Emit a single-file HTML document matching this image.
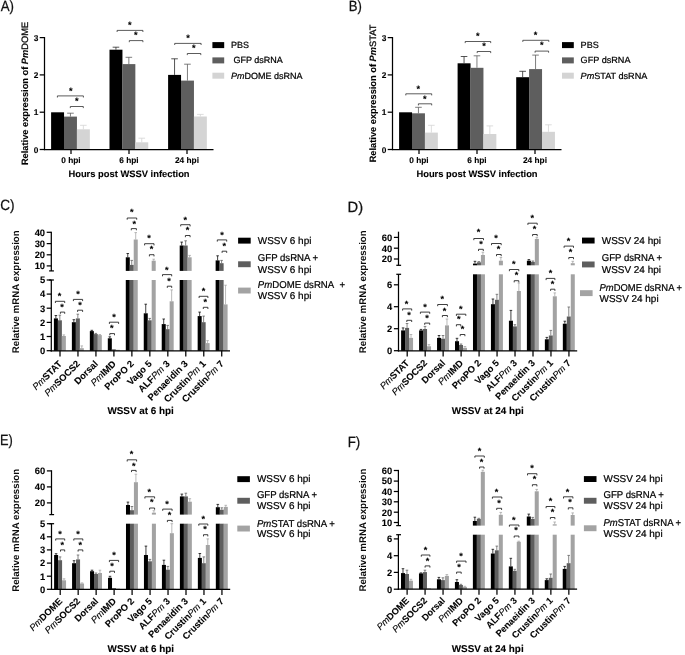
<!DOCTYPE html>
<html lang="en">
<head>
<meta charset="utf-8">
<title>Relative expression after dsRNA knockdown and WSSV infection</title>
<style>
html,body{margin:0;padding:0;background:#fff;}
body{width:685px;height:655px;overflow:hidden;}
svg{display:block;filter:blur(0.32px);text-rendering:geometricPrecision;font-family:"Liberation Sans",Arial,Helvetica,sans-serif;fill:#000;}
svg text{fill:#000;stroke:#000;stroke-width:0.22px;}
svg text[font-weight="bold"]{stroke-width:0.1px;}
svg text.yl{stroke-width:0;fill:#0a0a0a;}
svg text.pl{fill:#111;stroke:#111;stroke-width:0.25px;}
</style>
</head>
<body>
<svg width="685" height="655" viewBox="0 0 685 655">
<rect x="0" y="0" width="685" height="655" fill="#ffffff"/>
<rect x="51.1" y="112.3" width="12.95" height="37.2" fill="#000000"/>
<rect x="64" y="116.6" width="12.95" height="32.9" fill="#5e5e5e"/>
<line x1="70.45" y1="113.2" x2="70.45" y2="116.6" stroke="#5e5e5e" stroke-width="0.8"/>
<line x1="67.15" y1="113.2" x2="73.75" y2="113.2" stroke="#5e5e5e" stroke-width="0.8"/>
<rect x="76.9" y="129.3" width="12.95" height="20.2" fill="#d4d4d4"/>
<line x1="83.35" y1="125.3" x2="83.35" y2="129.3" stroke="#d4d4d4" stroke-width="0.8"/>
<line x1="80.05" y1="125.3" x2="86.65" y2="125.3" stroke="#d4d4d4" stroke-width="0.8"/>
<rect x="109.5" y="49.7" width="12.95" height="99.8" fill="#000000"/>
<line x1="115.95" y1="47.2" x2="115.95" y2="49.7" stroke="#2a2a2a" stroke-width="0.8"/>
<line x1="112.65" y1="47.2" x2="119.25" y2="47.2" stroke="#2a2a2a" stroke-width="0.8"/>
<rect x="122.4" y="64.1" width="12.95" height="85.4" fill="#5e5e5e"/>
<line x1="128.85" y1="57.3" x2="128.85" y2="64.1" stroke="#5e5e5e" stroke-width="0.8"/>
<line x1="125.55" y1="57.3" x2="132.15" y2="57.3" stroke="#5e5e5e" stroke-width="0.8"/>
<rect x="135.3" y="142.3" width="12.95" height="7.2" fill="#d4d4d4"/>
<line x1="141.75" y1="138.2" x2="141.75" y2="142.3" stroke="#d4d4d4" stroke-width="0.8"/>
<line x1="138.45" y1="138.2" x2="145.05" y2="138.2" stroke="#d4d4d4" stroke-width="0.8"/>
<rect x="168.1" y="74.9" width="12.95" height="74.6" fill="#000000"/>
<line x1="174.55" y1="58.8" x2="174.55" y2="74.9" stroke="#2a2a2a" stroke-width="0.8"/>
<line x1="171.25" y1="58.8" x2="177.85" y2="58.8" stroke="#2a2a2a" stroke-width="0.8"/>
<rect x="181" y="80.6" width="12.95" height="68.9" fill="#5e5e5e"/>
<line x1="187.45" y1="64.2" x2="187.45" y2="80.6" stroke="#5e5e5e" stroke-width="0.8"/>
<line x1="184.15" y1="64.2" x2="190.75" y2="64.2" stroke="#5e5e5e" stroke-width="0.8"/>
<rect x="193.9" y="116.5" width="12.95" height="33" fill="#d4d4d4"/>
<line x1="200.35" y1="114.4" x2="200.35" y2="116.5" stroke="#d4d4d4" stroke-width="0.8"/>
<line x1="197.05" y1="114.4" x2="203.65" y2="114.4" stroke="#d4d4d4" stroke-width="0.8"/>
<line x1="44.5" y1="37" x2="44.5" y2="150.12" stroke="#000000" stroke-width="1.25"/>
<line x1="43.88" y1="149.5" x2="213.5" y2="149.5" stroke="#000000" stroke-width="1.25"/>
<line x1="39.7" y1="149.5" x2="44.5" y2="149.5" stroke="#000000" stroke-width="1.25"/>
<text x="38.3" y="152.5" font-size="8.3" font-weight="bold" text-anchor="end">0</text>
<line x1="39.7" y1="112.2" x2="44.5" y2="112.2" stroke="#000000" stroke-width="1.25"/>
<text x="38.3" y="115.2" font-size="8.3" font-weight="bold" text-anchor="end">1</text>
<line x1="39.7" y1="74.9" x2="44.5" y2="74.9" stroke="#000000" stroke-width="1.25"/>
<text x="38.3" y="77.9" font-size="8.3" font-weight="bold" text-anchor="end">2</text>
<line x1="39.7" y1="37.6" x2="44.5" y2="37.6" stroke="#000000" stroke-width="1.25"/>
<text x="38.3" y="40.6" font-size="8.3" font-weight="bold" text-anchor="end">3</text>
<line x1="71" y1="149.5" x2="71" y2="154.1" stroke="#000000" stroke-width="1.25"/>
<text x="71" y="163.2" font-size="8.3" font-weight="bold" text-anchor="middle">0 hpi</text>
<line x1="129" y1="149.5" x2="129" y2="154.1" stroke="#000000" stroke-width="1.25"/>
<text x="129" y="163.2" font-size="8.3" font-weight="bold" text-anchor="middle">6 hpi</text>
<line x1="187" y1="149.5" x2="187" y2="154.1" stroke="#000000" stroke-width="1.25"/>
<text x="187" y="163.2" font-size="8.3" font-weight="bold" text-anchor="middle">24 hpi</text>
<text x="129" y="176.9" font-size="9.37" font-weight="bold" text-anchor="middle">Hours post WSSV infection</text>
<text x="27.6" y="93.5" font-size="9.27" font-weight="bold" text-anchor="middle" transform="rotate(-90 27.6 93.5)">Relative expression of <tspan font-style="italic">Pm</tspan><tspan font-weight="normal" stroke="#111" stroke-width="0.3">DOME</tspan></text>
<path d="M57.4 97.5V95.9H83.4V97.5" fill="none" stroke="#1c1c1c" stroke-width="0.72"/>
<path d="M70.3 108.1V106.5H83.3V108.1" fill="none" stroke="#1c1c1c" stroke-width="0.72"/>
<path d="M117.1 32V30.4H142.9V32" fill="none" stroke="#1c1c1c" stroke-width="0.72"/>
<path d="M129.3 42.2V40.6H142.9V42.2" fill="none" stroke="#1c1c1c" stroke-width="0.72"/>
<path d="M174.7 45V43.4H201.1V45" fill="none" stroke="#1c1c1c" stroke-width="0.72"/>
<path d="M187.3 55.1V53.5H200.8V55.1" fill="none" stroke="#1c1c1c" stroke-width="0.72"/>
<text x="70.9" y="94.32" font-size="9.2" font-weight="bold" text-anchor="middle">*</text>
<text x="76.7" y="104.12" font-size="9.2" font-weight="bold" text-anchor="middle">*</text>
<text x="129.9" y="28.02" font-size="9.2" font-weight="bold" text-anchor="middle">*</text>
<text x="135.9" y="38.02" font-size="9.2" font-weight="bold" text-anchor="middle">*</text>
<text x="188" y="40.92" font-size="9.2" font-weight="bold" text-anchor="middle">*</text>
<text x="193.7" y="51.42" font-size="9.2" font-weight="bold" text-anchor="middle">*</text>
<rect x="212.4" y="42.1" width="11.8" height="6" fill="#000000"/>
<text x="231" y="48.1" font-size="9" font-weight="normal" text-anchor="start">PBS</text>
<rect x="212.4" y="57.4" width="11.8" height="6" fill="#5e5e5e"/>
<text x="231" y="63.4" font-size="9" font-weight="normal" text-anchor="start">&#160;GFP dsRNA</text>
<rect x="212.4" y="72.7" width="11.8" height="6" fill="#d4d4d4"/>
<text x="231" y="78.7" font-size="9" font-weight="normal" text-anchor="start"><tspan font-style="italic">Pm</tspan>DOME dsRNA</text>
<text transform="translate(0.67 10.8) scale(0.8961 1)" font-size="14.8" class="pl">A)</text>
<rect x="399.1" y="112.3" width="12.95" height="37.2" fill="#000000"/>
<rect x="412" y="113.3" width="12.95" height="36.2" fill="#5e5e5e"/>
<line x1="418.45" y1="107.3" x2="418.45" y2="113.3" stroke="#5e5e5e" stroke-width="0.8"/>
<line x1="415.15" y1="107.3" x2="421.75" y2="107.3" stroke="#5e5e5e" stroke-width="0.8"/>
<rect x="424.9" y="132.6" width="12.95" height="16.9" fill="#d4d4d4"/>
<line x1="431.35" y1="125.3" x2="431.35" y2="132.6" stroke="#d4d4d4" stroke-width="0.8"/>
<line x1="428.05" y1="125.3" x2="434.65" y2="125.3" stroke="#d4d4d4" stroke-width="0.8"/>
<rect x="457.6" y="63.3" width="12.95" height="86.2" fill="#000000"/>
<line x1="464.05" y1="56.5" x2="464.05" y2="63.3" stroke="#2a2a2a" stroke-width="0.8"/>
<line x1="460.75" y1="56.5" x2="467.35" y2="56.5" stroke="#2a2a2a" stroke-width="0.8"/>
<rect x="470.5" y="67.8" width="12.95" height="81.7" fill="#5e5e5e"/>
<line x1="476.95" y1="55.8" x2="476.95" y2="67.8" stroke="#5e5e5e" stroke-width="0.8"/>
<line x1="473.65" y1="55.8" x2="480.25" y2="55.8" stroke="#5e5e5e" stroke-width="0.8"/>
<rect x="483.4" y="134" width="12.95" height="15.5" fill="#d4d4d4"/>
<line x1="489.85" y1="125.9" x2="489.85" y2="134" stroke="#d4d4d4" stroke-width="0.8"/>
<line x1="486.55" y1="125.9" x2="493.15" y2="125.9" stroke="#d4d4d4" stroke-width="0.8"/>
<rect x="516.2" y="77.2" width="12.95" height="72.3" fill="#000000"/>
<line x1="522.65" y1="71.3" x2="522.65" y2="77.2" stroke="#2a2a2a" stroke-width="0.8"/>
<line x1="519.35" y1="71.3" x2="525.95" y2="71.3" stroke="#2a2a2a" stroke-width="0.8"/>
<rect x="529.1" y="69.1" width="12.95" height="80.4" fill="#5e5e5e"/>
<line x1="535.55" y1="55.1" x2="535.55" y2="69.1" stroke="#5e5e5e" stroke-width="0.8"/>
<line x1="532.25" y1="55.1" x2="538.85" y2="55.1" stroke="#5e5e5e" stroke-width="0.8"/>
<rect x="542" y="131.8" width="12.95" height="17.7" fill="#d4d4d4"/>
<line x1="548.45" y1="124.8" x2="548.45" y2="131.8" stroke="#d4d4d4" stroke-width="0.8"/>
<line x1="545.15" y1="124.8" x2="551.75" y2="124.8" stroke="#d4d4d4" stroke-width="0.8"/>
<line x1="392.5" y1="37" x2="392.5" y2="150.12" stroke="#000000" stroke-width="1.25"/>
<line x1="391.88" y1="149.5" x2="561.5" y2="149.5" stroke="#000000" stroke-width="1.25"/>
<line x1="387.7" y1="149.5" x2="392.5" y2="149.5" stroke="#000000" stroke-width="1.25"/>
<text x="386.3" y="152.5" font-size="8.3" font-weight="bold" text-anchor="end">0</text>
<line x1="387.7" y1="112.2" x2="392.5" y2="112.2" stroke="#000000" stroke-width="1.25"/>
<text x="386.3" y="115.2" font-size="8.3" font-weight="bold" text-anchor="end">1</text>
<line x1="387.7" y1="74.9" x2="392.5" y2="74.9" stroke="#000000" stroke-width="1.25"/>
<text x="386.3" y="77.9" font-size="8.3" font-weight="bold" text-anchor="end">2</text>
<line x1="387.7" y1="37.6" x2="392.5" y2="37.6" stroke="#000000" stroke-width="1.25"/>
<text x="386.3" y="40.6" font-size="8.3" font-weight="bold" text-anchor="end">3</text>
<line x1="419" y1="149.5" x2="419" y2="154.1" stroke="#000000" stroke-width="1.25"/>
<text x="419" y="163.2" font-size="8.3" font-weight="bold" text-anchor="middle">0 hpi</text>
<line x1="477" y1="149.5" x2="477" y2="154.1" stroke="#000000" stroke-width="1.25"/>
<text x="477" y="163.2" font-size="8.3" font-weight="bold" text-anchor="middle">6 hpi</text>
<line x1="535" y1="149.5" x2="535" y2="154.1" stroke="#000000" stroke-width="1.25"/>
<text x="535" y="163.2" font-size="8.3" font-weight="bold" text-anchor="middle">24 hpi</text>
<text x="477" y="176.9" font-size="9.37" font-weight="bold" text-anchor="middle">Hours post WSSV infection</text>
<text x="375.6" y="93.5" font-size="9.27" font-weight="bold" text-anchor="middle" transform="rotate(-90 375.6 93.5)">Relative expression of <tspan font-style="italic">Pm</tspan><tspan font-weight="normal" stroke="#111" stroke-width="0.3">STAT</tspan></text>
<path d="M405.8 95.4V93.8H431.7V95.4" fill="none" stroke="#1c1c1c" stroke-width="0.72"/>
<path d="M418.4 105.4V103.8H431.7V105.4" fill="none" stroke="#1c1c1c" stroke-width="0.72"/>
<path d="M465.2 43.1V41.5H490.7V43.1" fill="none" stroke="#1c1c1c" stroke-width="0.72"/>
<path d="M477.2 53.1V51.5H490.7V53.1" fill="none" stroke="#1c1c1c" stroke-width="0.72"/>
<path d="M522.8 41.9V40.3H548.8V41.9" fill="none" stroke="#1c1c1c" stroke-width="0.72"/>
<path d="M535.1 52.7V51.1H548.6V52.7" fill="none" stroke="#1c1c1c" stroke-width="0.72"/>
<text x="418.4" y="92.02" font-size="9.2" font-weight="bold" text-anchor="middle">*</text>
<text x="424.7" y="102.12" font-size="9.2" font-weight="bold" text-anchor="middle">*</text>
<text x="477.7" y="39.02" font-size="9.2" font-weight="bold" text-anchor="middle">*</text>
<text x="484" y="49.22" font-size="9.2" font-weight="bold" text-anchor="middle">*</text>
<text x="535.6" y="37.62" font-size="9.2" font-weight="bold" text-anchor="middle">*</text>
<text x="541.9" y="48.42" font-size="9.2" font-weight="bold" text-anchor="middle">*</text>
<rect x="562" y="42.1" width="11.8" height="6" fill="#000000"/>
<text x="580.6" y="48.1" font-size="9.1" font-weight="normal" text-anchor="start">PBS</text>
<rect x="562" y="57.4" width="11.8" height="6" fill="#5e5e5e"/>
<text x="580.6" y="63.4" font-size="9.1" font-weight="normal" text-anchor="start">GFP dsRNA</text>
<rect x="562" y="72.7" width="11.8" height="6" fill="#d4d4d4"/>
<text x="580.6" y="78.7" font-size="9.1" font-weight="normal" text-anchor="start"><tspan font-style="italic">Pm</tspan>STAT dsRNA</text>
<text transform="translate(348.83 10.8) scale(0.8851 1)" font-size="14.8" class="pl">B)</text>
<rect x="53.9" y="318.4" width="4.02" height="32.45" fill="#000000"/>
<line x1="55.88" y1="315.5" x2="55.88" y2="318.4" stroke="#000000" stroke-width="0.75"/>
<line x1="54.59" y1="315.5" x2="57.18" y2="315.5" stroke="#000000" stroke-width="0.75"/>
<rect x="57.87" y="320.3" width="4.02" height="30.55" fill="#5e5e5e"/>
<line x1="59.85" y1="315.2" x2="59.85" y2="320.3" stroke="#5e5e5e" stroke-width="0.75"/>
<line x1="58.55" y1="315.2" x2="61.15" y2="315.2" stroke="#5e5e5e" stroke-width="0.75"/>
<rect x="61.84" y="336" width="4.02" height="14.85" fill="#a3a3a3"/>
<line x1="63.82" y1="334.9" x2="63.82" y2="336" stroke="#a3a3a3" stroke-width="0.75"/>
<line x1="62.52" y1="334.9" x2="65.12" y2="334.9" stroke="#a3a3a3" stroke-width="0.75"/>
<rect x="71.87" y="322.2" width="4.02" height="28.65" fill="#000000"/>
<line x1="73.86" y1="319.7" x2="73.86" y2="322.2" stroke="#000000" stroke-width="0.75"/>
<line x1="72.56" y1="319.7" x2="75.16" y2="319.7" stroke="#000000" stroke-width="0.75"/>
<rect x="75.84" y="318.4" width="4.02" height="32.45" fill="#5e5e5e"/>
<line x1="77.83" y1="314.2" x2="77.83" y2="318.4" stroke="#5e5e5e" stroke-width="0.75"/>
<line x1="76.53" y1="314.2" x2="79.12" y2="314.2" stroke="#5e5e5e" stroke-width="0.75"/>
<rect x="79.81" y="348.2" width="4.02" height="2.65" fill="#a3a3a3"/>
<line x1="81.8" y1="345.9" x2="81.8" y2="348.2" stroke="#a3a3a3" stroke-width="0.75"/>
<line x1="80.5" y1="345.9" x2="83.09" y2="345.9" stroke="#a3a3a3" stroke-width="0.75"/>
<rect x="89.84" y="331.1" width="4.02" height="19.75" fill="#000000"/>
<line x1="91.83" y1="330.3" x2="91.83" y2="331.1" stroke="#000000" stroke-width="0.75"/>
<line x1="90.53" y1="330.3" x2="93.12" y2="330.3" stroke="#000000" stroke-width="0.75"/>
<rect x="93.81" y="334.1" width="4.02" height="16.75" fill="#5e5e5e"/>
<line x1="95.8" y1="333.4" x2="95.8" y2="334.1" stroke="#5e5e5e" stroke-width="0.75"/>
<line x1="94.5" y1="333.4" x2="97.09" y2="333.4" stroke="#5e5e5e" stroke-width="0.75"/>
<rect x="97.78" y="335.1" width="4.02" height="15.75" fill="#a3a3a3"/>
<line x1="99.77" y1="334.5" x2="99.77" y2="335.1" stroke="#a3a3a3" stroke-width="0.75"/>
<line x1="98.47" y1="334.5" x2="101.06" y2="334.5" stroke="#a3a3a3" stroke-width="0.75"/>
<rect x="107.81" y="338.3" width="4.02" height="12.55" fill="#000000"/>
<line x1="109.8" y1="336.8" x2="109.8" y2="338.3" stroke="#000000" stroke-width="0.75"/>
<line x1="108.5" y1="336.8" x2="111.09" y2="336.8" stroke="#000000" stroke-width="0.75"/>
<rect x="111.78" y="349.3" width="4.02" height="1.55" fill="#5e5e5e"/>
<rect x="115.75" y="349.8" width="4.02" height="1.05" fill="#a3a3a3"/>
<rect x="125.78" y="280" width="4.02" height="70.85" fill="#000000"/>
<rect x="125.78" y="257.3" width="4.02" height="13.6" fill="#000000"/>
<line x1="127.77" y1="253.5" x2="127.77" y2="257.3" stroke="#000000" stroke-width="0.75"/>
<line x1="126.47" y1="253.5" x2="129.06" y2="253.5" stroke="#000000" stroke-width="0.75"/>
<rect x="129.75" y="280" width="4.02" height="70.85" fill="#5e5e5e"/>
<rect x="129.75" y="264.9" width="4.02" height="6" fill="#5e5e5e"/>
<line x1="131.74" y1="260.4" x2="131.74" y2="264.9" stroke="#5e5e5e" stroke-width="0.75"/>
<line x1="130.44" y1="260.4" x2="133.04" y2="260.4" stroke="#5e5e5e" stroke-width="0.75"/>
<rect x="133.72" y="280" width="4.02" height="70.85" fill="#a3a3a3"/>
<rect x="133.72" y="239.5" width="4.02" height="31.4" fill="#a3a3a3"/>
<line x1="135.71" y1="232.6" x2="135.71" y2="239.5" stroke="#a3a3a3" stroke-width="0.75"/>
<line x1="134.41" y1="232.6" x2="137.01" y2="232.6" stroke="#a3a3a3" stroke-width="0.75"/>
<rect x="143.75" y="313.3" width="4.02" height="37.55" fill="#000000"/>
<line x1="145.74" y1="304.2" x2="145.74" y2="313.3" stroke="#000000" stroke-width="0.75"/>
<line x1="144.44" y1="304.2" x2="147.04" y2="304.2" stroke="#000000" stroke-width="0.75"/>
<rect x="147.72" y="320.3" width="4.02" height="30.55" fill="#5e5e5e"/>
<line x1="149.71" y1="318.4" x2="149.71" y2="320.3" stroke="#5e5e5e" stroke-width="0.75"/>
<line x1="148.41" y1="318.4" x2="151.01" y2="318.4" stroke="#5e5e5e" stroke-width="0.75"/>
<rect x="151.69" y="280" width="4.02" height="70.85" fill="#a3a3a3"/>
<rect x="151.69" y="260.7" width="4.02" height="10.2" fill="#a3a3a3"/>
<line x1="153.68" y1="259.2" x2="153.68" y2="260.7" stroke="#a3a3a3" stroke-width="0.75"/>
<line x1="152.38" y1="259.2" x2="154.98" y2="259.2" stroke="#a3a3a3" stroke-width="0.75"/>
<rect x="161.72" y="324.1" width="4.02" height="26.75" fill="#000000"/>
<line x1="163.71" y1="319" x2="163.71" y2="324.1" stroke="#000000" stroke-width="0.75"/>
<line x1="162.41" y1="319" x2="165.01" y2="319" stroke="#000000" stroke-width="0.75"/>
<rect x="165.69" y="329.2" width="4.02" height="21.65" fill="#5e5e5e"/>
<line x1="167.68" y1="325.4" x2="167.68" y2="329.2" stroke="#5e5e5e" stroke-width="0.75"/>
<line x1="166.38" y1="325.4" x2="168.98" y2="325.4" stroke="#5e5e5e" stroke-width="0.75"/>
<rect x="169.66" y="301.3" width="4.02" height="49.55" fill="#a3a3a3"/>
<line x1="171.65" y1="289.9" x2="171.65" y2="301.3" stroke="#a3a3a3" stroke-width="0.75"/>
<line x1="170.34" y1="289.9" x2="172.95" y2="289.9" stroke="#a3a3a3" stroke-width="0.75"/>
<rect x="179.69" y="280" width="4.02" height="70.85" fill="#000000"/>
<rect x="179.69" y="245.5" width="4.02" height="25.4" fill="#000000"/>
<line x1="181.68" y1="242.1" x2="181.68" y2="245.5" stroke="#000000" stroke-width="0.75"/>
<line x1="180.38" y1="242.1" x2="182.98" y2="242.1" stroke="#000000" stroke-width="0.75"/>
<rect x="183.66" y="280" width="4.02" height="70.85" fill="#5e5e5e"/>
<rect x="183.66" y="245.5" width="4.02" height="25.4" fill="#5e5e5e"/>
<line x1="185.65" y1="240.8" x2="185.65" y2="245.5" stroke="#5e5e5e" stroke-width="0.75"/>
<line x1="184.34" y1="240.8" x2="186.95" y2="240.8" stroke="#5e5e5e" stroke-width="0.75"/>
<rect x="187.63" y="280" width="4.02" height="70.85" fill="#a3a3a3"/>
<rect x="187.63" y="257.3" width="4.02" height="13.6" fill="#a3a3a3"/>
<line x1="189.62" y1="255.4" x2="189.62" y2="257.3" stroke="#a3a3a3" stroke-width="0.75"/>
<line x1="188.31" y1="255.4" x2="190.92" y2="255.4" stroke="#a3a3a3" stroke-width="0.75"/>
<rect x="197.66" y="316.1" width="4.02" height="34.75" fill="#000000"/>
<line x1="199.65" y1="312.1" x2="199.65" y2="316.1" stroke="#000000" stroke-width="0.75"/>
<line x1="198.34" y1="312.1" x2="200.95" y2="312.1" stroke="#000000" stroke-width="0.75"/>
<rect x="201.63" y="322.2" width="4.02" height="28.65" fill="#5e5e5e"/>
<line x1="203.62" y1="316.1" x2="203.62" y2="322.2" stroke="#5e5e5e" stroke-width="0.75"/>
<line x1="202.31" y1="316.1" x2="204.92" y2="316.1" stroke="#5e5e5e" stroke-width="0.75"/>
<rect x="205.6" y="343.1" width="4.02" height="7.75" fill="#a3a3a3"/>
<line x1="207.59" y1="340.6" x2="207.59" y2="343.1" stroke="#a3a3a3" stroke-width="0.75"/>
<line x1="206.28" y1="340.6" x2="208.89" y2="340.6" stroke="#a3a3a3" stroke-width="0.75"/>
<rect x="215.63" y="280" width="4.02" height="70.85" fill="#000000"/>
<rect x="215.63" y="260.4" width="4.02" height="10.5" fill="#000000"/>
<line x1="217.62" y1="255.8" x2="217.62" y2="260.4" stroke="#000000" stroke-width="0.75"/>
<line x1="216.31" y1="255.8" x2="218.92" y2="255.8" stroke="#000000" stroke-width="0.75"/>
<rect x="219.6" y="280" width="4.02" height="70.85" fill="#5e5e5e"/>
<rect x="219.6" y="263.2" width="4.02" height="7.7" fill="#5e5e5e"/>
<line x1="221.59" y1="260.4" x2="221.59" y2="263.2" stroke="#5e5e5e" stroke-width="0.75"/>
<line x1="220.28" y1="260.4" x2="222.89" y2="260.4" stroke="#5e5e5e" stroke-width="0.75"/>
<rect x="223.57" y="304.4" width="4.02" height="46.45" fill="#a3a3a3"/>
<line x1="225.56" y1="285.2" x2="225.56" y2="304.4" stroke="#a3a3a3" stroke-width="0.75"/>
<line x1="224.25" y1="285.2" x2="226.86" y2="285.2" stroke="#a3a3a3" stroke-width="0.75"/>
<line x1="51.3" y1="231.68" x2="51.3" y2="270.9" stroke="#000000" stroke-width="1.25"/>
<line x1="49.1" y1="270.9" x2="53.9" y2="270.9" stroke="#000000" stroke-width="1.25"/>
<line x1="51.3" y1="280" x2="51.3" y2="351.48" stroke="#000000" stroke-width="1.25"/>
<line x1="49.1" y1="280" x2="53.9" y2="280" stroke="#000000" stroke-width="1.25"/>
<line x1="50.67" y1="350.85" x2="230" y2="350.85" stroke="#000000" stroke-width="1.25"/>
<line x1="46.7" y1="232.3" x2="51.3" y2="232.3" stroke="#000000" stroke-width="1.25"/>
<text x="45.1" y="235.65" font-size="9.4" font-weight="bold" text-anchor="end">40</text>
<line x1="46.7" y1="243.6" x2="51.3" y2="243.6" stroke="#000000" stroke-width="1.25"/>
<text x="45.1" y="246.95" font-size="9.4" font-weight="bold" text-anchor="end">30</text>
<line x1="46.7" y1="254.8" x2="51.3" y2="254.8" stroke="#000000" stroke-width="1.25"/>
<text x="45.1" y="258.15" font-size="9.4" font-weight="bold" text-anchor="end">20</text>
<line x1="46.7" y1="265.9" x2="51.3" y2="265.9" stroke="#000000" stroke-width="1.25"/>
<text x="45.1" y="269.25" font-size="9.4" font-weight="bold" text-anchor="end">10</text>
<line x1="46.7" y1="280" x2="51.3" y2="280" stroke="#000000" stroke-width="1.25"/>
<text x="45.1" y="283.35" font-size="9.4" font-weight="bold" text-anchor="end">5</text>
<line x1="46.7" y1="294.1" x2="51.3" y2="294.1" stroke="#000000" stroke-width="1.25"/>
<text x="45.1" y="297.45" font-size="9.4" font-weight="bold" text-anchor="end">4</text>
<line x1="46.7" y1="308.2" x2="51.3" y2="308.2" stroke="#000000" stroke-width="1.25"/>
<text x="45.1" y="311.55" font-size="9.4" font-weight="bold" text-anchor="end">3</text>
<line x1="46.7" y1="322.4" x2="51.3" y2="322.4" stroke="#000000" stroke-width="1.25"/>
<text x="45.1" y="325.75" font-size="9.4" font-weight="bold" text-anchor="end">2</text>
<line x1="46.7" y1="336.5" x2="51.3" y2="336.5" stroke="#000000" stroke-width="1.25"/>
<text x="45.1" y="339.85" font-size="9.4" font-weight="bold" text-anchor="end">1</text>
<line x1="46.7" y1="350.7" x2="51.3" y2="350.7" stroke="#000000" stroke-width="1.25"/>
<text x="45.1" y="354.05" font-size="9.4" font-weight="bold" text-anchor="end">0</text>
<line x1="60" y1="350.85" x2="60" y2="356.45" stroke="#000000" stroke-width="1.25"/>
<text x="62.6" y="364.35" font-size="9.4" font-weight="bold" text-anchor="end" transform="rotate(-45 62.6 364.35)"><tspan font-style="italic" font-weight="normal">Pm</tspan>STAT</text>
<line x1="77.97" y1="350.85" x2="77.97" y2="356.45" stroke="#000000" stroke-width="1.25"/>
<text x="80.57" y="364.35" font-size="9.4" font-weight="bold" text-anchor="end" transform="rotate(-45 80.57 364.35)"><tspan font-style="italic" font-weight="normal">Pm</tspan>SOCS2</text>
<line x1="95.94" y1="350.85" x2="95.94" y2="356.45" stroke="#000000" stroke-width="1.25"/>
<text x="98.54" y="364.35" font-size="9.4" font-weight="bold" text-anchor="end" transform="rotate(-45 98.54 364.35)">Dorsal</text>
<line x1="113.91" y1="350.85" x2="113.91" y2="356.45" stroke="#000000" stroke-width="1.25"/>
<text x="116.51" y="364.35" font-size="9.4" font-weight="bold" text-anchor="end" transform="rotate(-45 116.51 364.35)"><tspan font-style="italic" font-weight="normal">Pm</tspan>IMD</text>
<line x1="131.88" y1="350.85" x2="131.88" y2="356.45" stroke="#000000" stroke-width="1.25"/>
<text x="134.48" y="364.35" font-size="9.4" font-weight="bold" text-anchor="end" transform="rotate(-45 134.48 364.35)">ProPO 2</text>
<line x1="149.85" y1="350.85" x2="149.85" y2="356.45" stroke="#000000" stroke-width="1.25"/>
<text x="152.45" y="364.35" font-size="9.4" font-weight="bold" text-anchor="end" transform="rotate(-45 152.45 364.35)">Vago 5</text>
<line x1="167.83" y1="350.85" x2="167.83" y2="356.45" stroke="#000000" stroke-width="1.25"/>
<text x="170.43" y="364.35" font-size="9.4" font-weight="bold" text-anchor="end" transform="rotate(-45 170.43 364.35)">ALF<tspan font-style="italic" font-weight="normal">Pm</tspan> 3</text>
<line x1="185.79" y1="350.85" x2="185.79" y2="356.45" stroke="#000000" stroke-width="1.25"/>
<text x="188.39" y="364.35" font-size="9.4" font-weight="bold" text-anchor="end" transform="rotate(-45 188.39 364.35)">Penaeidin 3</text>
<line x1="203.77" y1="350.85" x2="203.77" y2="356.45" stroke="#000000" stroke-width="1.25"/>
<text x="206.37" y="364.35" font-size="9.4" font-weight="bold" text-anchor="end" transform="rotate(-45 206.37 364.35)">Crustin<tspan font-style="italic" font-weight="normal">Pm</tspan> 1</text>
<line x1="221.73" y1="350.85" x2="221.73" y2="356.45" stroke="#000000" stroke-width="1.25"/>
<text x="224.33" y="364.35" font-size="9.4" font-weight="bold" text-anchor="end" transform="rotate(-45 224.33 364.35)">Crustin<tspan font-style="italic" font-weight="normal">Pm</tspan> 7</text>
<text x="140.6" y="413.85" font-size="9.9" font-weight="bold" text-anchor="middle">WSSV at 6 hpi</text>
<text x="18.7" y="291.78" font-size="9.7" font-weight="bold" text-anchor="middle" class="yl" transform="rotate(-90 18.7 291.78)">Relative mRNA expression</text>
<path d="M55.4 303V301.3H64.7V303" fill="none" stroke="#1c1c1c" stroke-width="0.85"/>
<path d="M60.4 313.8V312.1H64.7V313.8" fill="none" stroke="#1c1c1c" stroke-width="0.85"/>
<path d="M73.4 301.1V299.4H82.6V301.1" fill="none" stroke="#1c1c1c" stroke-width="0.85"/>
<path d="M77.6 311.9V310.2H82.6V311.9" fill="none" stroke="#1c1c1c" stroke-width="0.85"/>
<path d="M109.4 323.9V322.2H118.6V323.9" fill="none" stroke="#1c1c1c" stroke-width="0.85"/>
<path d="M109.8 335.3V333.6H114.5V335.3" fill="none" stroke="#1c1c1c" stroke-width="0.85"/>
<path d="M127.2 219.7V218H136.7V219.7" fill="none" stroke="#1c1c1c" stroke-width="0.85"/>
<path d="M131.3 230.3V228.6H136.4V230.3" fill="none" stroke="#1c1c1c" stroke-width="0.85"/>
<path d="M144.6 245.4V243.7H154V245.4" fill="none" stroke="#1c1c1c" stroke-width="0.85"/>
<path d="M149.4 256.4V254.7H154V256.4" fill="none" stroke="#1c1c1c" stroke-width="0.85"/>
<path d="M162.5 276.3V274.6H171.7V276.3" fill="none" stroke="#1c1c1c" stroke-width="0.85"/>
<path d="M167.3 287.9V286.2H171.7V287.9" fill="none" stroke="#1c1c1c" stroke-width="0.85"/>
<path d="M180.7 226.4V224.7H190.1V226.4" fill="none" stroke="#1c1c1c" stroke-width="0.85"/>
<path d="M185.4 237.2V235.5H190.1V237.2" fill="none" stroke="#1c1c1c" stroke-width="0.85"/>
<path d="M199.1 298V296.3H207.9V298" fill="none" stroke="#1c1c1c" stroke-width="0.85"/>
<path d="M203.3 309V307.3H207.9V309" fill="none" stroke="#1c1c1c" stroke-width="0.85"/>
<path d="M217.3 241.6V239.9H226.7V241.6" fill="none" stroke="#1c1c1c" stroke-width="0.85"/>
<path d="M222.1 252.9V251.2H226.7V252.9" fill="none" stroke="#1c1c1c" stroke-width="0.85"/>
<text x="59.6" y="299.22" font-size="9" font-weight="bold" text-anchor="middle">*</text>
<text x="62" y="310.02" font-size="9" font-weight="bold" text-anchor="middle">*</text>
<text x="78" y="296.92" font-size="9" font-weight="bold" text-anchor="middle">*</text>
<text x="80" y="308.12" font-size="9" font-weight="bold" text-anchor="middle">*</text>
<text x="113.9" y="320.02" font-size="9" font-weight="bold" text-anchor="middle">*</text>
<text x="111.7" y="331.12" font-size="9" font-weight="bold" text-anchor="middle">*</text>
<text x="131.7" y="215.32" font-size="9" font-weight="bold" text-anchor="middle">*</text>
<text x="134.2" y="226.52" font-size="9" font-weight="bold" text-anchor="middle">*</text>
<text x="148.9" y="241.12" font-size="9" font-weight="bold" text-anchor="middle">*</text>
<text x="151.4" y="251.92" font-size="9" font-weight="bold" text-anchor="middle">*</text>
<text x="166.7" y="272.52" font-size="9" font-weight="bold" text-anchor="middle">*</text>
<text x="169.1" y="283.52" font-size="9" font-weight="bold" text-anchor="middle">*</text>
<text x="185.3" y="222.52" font-size="9" font-weight="bold" text-anchor="middle">*</text>
<text x="187.4" y="233.32" font-size="9" font-weight="bold" text-anchor="middle">*</text>
<text x="203.5" y="293.82" font-size="9" font-weight="bold" text-anchor="middle">*</text>
<text x="205.3" y="304.62" font-size="9" font-weight="bold" text-anchor="middle">*</text>
<text x="222" y="237.72" font-size="9" font-weight="bold" text-anchor="middle">*</text>
<text x="224.3" y="248.72" font-size="9" font-weight="bold" text-anchor="middle">*</text>
<rect x="238.1" y="237.7" width="12.6" height="5.9" fill="#000000"/>
<text x="257.8" y="243.7" font-size="9.95" font-weight="normal" text-anchor="start">WSSV 6 hpi</text>
<rect x="238.1" y="261.3" width="12.6" height="5.9" fill="#5e5e5e"/>
<text x="257.8" y="261.3" font-size="9.95" font-weight="normal" text-anchor="start" textLength="60.4" lengthAdjust="spacingAndGlyphs">GFP dsRNA +</text>
<text x="257.8" y="272.7" font-size="9.95" font-weight="normal" text-anchor="start">WSSV 6 hpi</text>
<rect x="238.1" y="287.6" width="12.6" height="5.9" fill="#a3a3a3"/>
<text x="257.8" y="288" font-size="9.95" font-weight="normal" text-anchor="start" textLength="87.4" lengthAdjust="spacingAndGlyphs"><tspan font-style="italic">Pm</tspan>DOME dsRNA&#160; +</text>
<text x="257.8" y="299.2" font-size="9.95" font-weight="normal" text-anchor="start">WSSV 6 hpi</text>
<text transform="translate(0.21 209.8) scale(0.9191 1)" font-size="14.8" class="pl">C)</text>
<rect x="401.1" y="330.4" width="4.02" height="20.45" fill="#000000"/>
<line x1="403.09" y1="327.9" x2="403.09" y2="330.4" stroke="#000000" stroke-width="0.75"/>
<line x1="401.79" y1="327.9" x2="404.39" y2="327.9" stroke="#000000" stroke-width="0.75"/>
<rect x="405.07" y="327.9" width="4.02" height="22.95" fill="#5e5e5e"/>
<line x1="407.06" y1="323.5" x2="407.06" y2="327.9" stroke="#5e5e5e" stroke-width="0.75"/>
<line x1="405.76" y1="323.5" x2="408.36" y2="323.5" stroke="#5e5e5e" stroke-width="0.75"/>
<rect x="409.04" y="337.9" width="4.02" height="12.95" fill="#a3a3a3"/>
<line x1="411.03" y1="334.5" x2="411.03" y2="337.9" stroke="#a3a3a3" stroke-width="0.75"/>
<line x1="409.73" y1="334.5" x2="412.33" y2="334.5" stroke="#a3a3a3" stroke-width="0.75"/>
<rect x="419.07" y="330.4" width="4.02" height="20.45" fill="#000000"/>
<line x1="421.06" y1="329.4" x2="421.06" y2="330.4" stroke="#000000" stroke-width="0.75"/>
<line x1="419.76" y1="329.4" x2="422.36" y2="329.4" stroke="#000000" stroke-width="0.75"/>
<rect x="423.04" y="329" width="4.02" height="21.85" fill="#5e5e5e"/>
<line x1="425.03" y1="326.4" x2="425.03" y2="329" stroke="#5e5e5e" stroke-width="0.75"/>
<line x1="423.73" y1="326.4" x2="426.33" y2="326.4" stroke="#5e5e5e" stroke-width="0.75"/>
<rect x="427.01" y="346.3" width="4.02" height="4.55" fill="#a3a3a3"/>
<line x1="429" y1="344.6" x2="429" y2="346.3" stroke="#a3a3a3" stroke-width="0.75"/>
<line x1="427.7" y1="344.6" x2="430.3" y2="344.6" stroke="#a3a3a3" stroke-width="0.75"/>
<rect x="437.04" y="337.9" width="4.02" height="12.95" fill="#000000"/>
<line x1="439.03" y1="335.5" x2="439.03" y2="337.9" stroke="#000000" stroke-width="0.75"/>
<line x1="437.73" y1="335.5" x2="440.33" y2="335.5" stroke="#000000" stroke-width="0.75"/>
<rect x="441.01" y="338.7" width="4.02" height="12.15" fill="#5e5e5e"/>
<line x1="443" y1="335.5" x2="443" y2="338.7" stroke="#5e5e5e" stroke-width="0.75"/>
<line x1="441.7" y1="335.5" x2="444.3" y2="335.5" stroke="#5e5e5e" stroke-width="0.75"/>
<rect x="444.98" y="325.4" width="4.02" height="25.45" fill="#a3a3a3"/>
<line x1="446.97" y1="319" x2="446.97" y2="325.4" stroke="#a3a3a3" stroke-width="0.75"/>
<line x1="445.67" y1="319" x2="448.27" y2="319" stroke="#a3a3a3" stroke-width="0.75"/>
<rect x="455.01" y="341.2" width="4.02" height="9.65" fill="#000000"/>
<line x1="457" y1="338.3" x2="457" y2="341.2" stroke="#000000" stroke-width="0.75"/>
<line x1="455.69" y1="338.3" x2="458.3" y2="338.3" stroke="#000000" stroke-width="0.75"/>
<rect x="458.98" y="345" width="4.02" height="5.85" fill="#5e5e5e"/>
<line x1="460.97" y1="344" x2="460.97" y2="345" stroke="#5e5e5e" stroke-width="0.75"/>
<line x1="459.67" y1="344" x2="462.27" y2="344" stroke="#5e5e5e" stroke-width="0.75"/>
<rect x="462.95" y="347.8" width="4.02" height="3.05" fill="#a3a3a3"/>
<line x1="464.94" y1="346.5" x2="464.94" y2="347.8" stroke="#a3a3a3" stroke-width="0.75"/>
<line x1="463.63" y1="346.5" x2="466.24" y2="346.5" stroke="#a3a3a3" stroke-width="0.75"/>
<rect x="472.98" y="274.3" width="4.02" height="76.55" fill="#000000"/>
<rect x="472.98" y="263.6" width="4.02" height="1.7" fill="#000000"/>
<line x1="474.97" y1="261.3" x2="474.97" y2="263.6" stroke="#000000" stroke-width="0.75"/>
<line x1="473.67" y1="261.3" x2="476.27" y2="261.3" stroke="#000000" stroke-width="0.75"/>
<rect x="476.95" y="274.3" width="4.02" height="76.55" fill="#5e5e5e"/>
<rect x="476.95" y="262.3" width="4.02" height="3" fill="#5e5e5e"/>
<line x1="478.94" y1="261.6" x2="478.94" y2="262.3" stroke="#5e5e5e" stroke-width="0.75"/>
<line x1="477.64" y1="261.6" x2="480.24" y2="261.6" stroke="#5e5e5e" stroke-width="0.75"/>
<rect x="480.92" y="274.3" width="4.02" height="76.55" fill="#a3a3a3"/>
<rect x="480.92" y="255" width="4.02" height="10.3" fill="#a3a3a3"/>
<line x1="482.91" y1="252.2" x2="482.91" y2="255" stroke="#a3a3a3" stroke-width="0.75"/>
<line x1="481.61" y1="252.2" x2="484.21" y2="252.2" stroke="#a3a3a3" stroke-width="0.75"/>
<rect x="490.95" y="304.2" width="4.02" height="46.65" fill="#000000"/>
<line x1="492.94" y1="299" x2="492.94" y2="304.2" stroke="#000000" stroke-width="0.75"/>
<line x1="491.64" y1="299" x2="494.24" y2="299" stroke="#000000" stroke-width="0.75"/>
<rect x="494.92" y="299.8" width="4.02" height="51.05" fill="#5e5e5e"/>
<line x1="496.91" y1="294.3" x2="496.91" y2="299.8" stroke="#5e5e5e" stroke-width="0.75"/>
<line x1="495.61" y1="294.3" x2="498.21" y2="294.3" stroke="#5e5e5e" stroke-width="0.75"/>
<rect x="498.89" y="274.3" width="4.02" height="76.55" fill="#a3a3a3"/>
<rect x="498.89" y="260.7" width="4.02" height="4.6" fill="#a3a3a3"/>
<line x1="500.88" y1="257.5" x2="500.88" y2="260.7" stroke="#a3a3a3" stroke-width="0.75"/>
<line x1="499.58" y1="257.5" x2="502.18" y2="257.5" stroke="#a3a3a3" stroke-width="0.75"/>
<rect x="508.92" y="320.7" width="4.02" height="30.15" fill="#000000"/>
<line x1="510.91" y1="310.4" x2="510.91" y2="320.7" stroke="#000000" stroke-width="0.75"/>
<line x1="509.61" y1="310.4" x2="512.21" y2="310.4" stroke="#000000" stroke-width="0.75"/>
<rect x="512.89" y="326.4" width="4.02" height="24.45" fill="#5e5e5e"/>
<line x1="514.88" y1="324.7" x2="514.88" y2="326.4" stroke="#5e5e5e" stroke-width="0.75"/>
<line x1="513.58" y1="324.7" x2="516.17" y2="324.7" stroke="#5e5e5e" stroke-width="0.75"/>
<rect x="516.86" y="291" width="4.02" height="59.85" fill="#a3a3a3"/>
<line x1="518.85" y1="283" x2="518.85" y2="291" stroke="#a3a3a3" stroke-width="0.75"/>
<line x1="517.55" y1="283" x2="520.14" y2="283" stroke="#a3a3a3" stroke-width="0.75"/>
<rect x="526.89" y="274.3" width="4.02" height="76.55" fill="#000000"/>
<rect x="526.89" y="260.7" width="4.02" height="4.6" fill="#000000"/>
<line x1="528.88" y1="259.6" x2="528.88" y2="260.7" stroke="#000000" stroke-width="0.75"/>
<line x1="527.58" y1="259.6" x2="530.17" y2="259.6" stroke="#000000" stroke-width="0.75"/>
<rect x="530.86" y="274.3" width="4.02" height="76.55" fill="#5e5e5e"/>
<rect x="530.86" y="261.9" width="4.02" height="3.4" fill="#5e5e5e"/>
<line x1="532.85" y1="261" x2="532.85" y2="261.9" stroke="#5e5e5e" stroke-width="0.75"/>
<line x1="531.55" y1="261" x2="534.14" y2="261" stroke="#5e5e5e" stroke-width="0.75"/>
<rect x="534.83" y="274.3" width="4.02" height="76.55" fill="#a3a3a3"/>
<rect x="534.83" y="238.9" width="4.02" height="26.4" fill="#a3a3a3"/>
<line x1="536.82" y1="237.4" x2="536.82" y2="238.9" stroke="#a3a3a3" stroke-width="0.75"/>
<line x1="535.52" y1="237.4" x2="538.12" y2="237.4" stroke="#a3a3a3" stroke-width="0.75"/>
<rect x="544.86" y="339.3" width="4.02" height="11.55" fill="#000000"/>
<line x1="546.85" y1="337.4" x2="546.85" y2="339.3" stroke="#000000" stroke-width="0.75"/>
<line x1="545.55" y1="337.4" x2="548.14" y2="337.4" stroke="#000000" stroke-width="0.75"/>
<rect x="548.83" y="335.5" width="4.02" height="15.35" fill="#5e5e5e"/>
<line x1="550.82" y1="330.4" x2="550.82" y2="335.5" stroke="#5e5e5e" stroke-width="0.75"/>
<line x1="549.52" y1="330.4" x2="552.12" y2="330.4" stroke="#5e5e5e" stroke-width="0.75"/>
<rect x="552.8" y="296.3" width="4.02" height="54.55" fill="#a3a3a3"/>
<line x1="554.79" y1="292.9" x2="554.79" y2="296.3" stroke="#a3a3a3" stroke-width="0.75"/>
<line x1="553.49" y1="292.9" x2="556.09" y2="292.9" stroke="#a3a3a3" stroke-width="0.75"/>
<rect x="562.83" y="323.7" width="4.02" height="27.15" fill="#000000"/>
<line x1="564.82" y1="321.2" x2="564.82" y2="323.7" stroke="#000000" stroke-width="0.75"/>
<line x1="563.52" y1="321.2" x2="566.12" y2="321.2" stroke="#000000" stroke-width="0.75"/>
<rect x="566.8" y="316.5" width="4.02" height="34.35" fill="#5e5e5e"/>
<line x1="568.79" y1="307" x2="568.79" y2="316.5" stroke="#5e5e5e" stroke-width="0.75"/>
<line x1="567.49" y1="307" x2="570.09" y2="307" stroke="#5e5e5e" stroke-width="0.75"/>
<rect x="570.77" y="274.3" width="4.02" height="76.55" fill="#a3a3a3"/>
<rect x="570.77" y="263.2" width="4.02" height="2.1" fill="#a3a3a3"/>
<line x1="572.76" y1="261.3" x2="572.76" y2="263.2" stroke="#a3a3a3" stroke-width="0.75"/>
<line x1="571.46" y1="261.3" x2="574.06" y2="261.3" stroke="#a3a3a3" stroke-width="0.75"/>
<line x1="398.5" y1="231.68" x2="398.5" y2="265.3" stroke="#000000" stroke-width="1.25"/>
<line x1="396.3" y1="265.3" x2="401.1" y2="265.3" stroke="#000000" stroke-width="1.25"/>
<line x1="398.5" y1="274.3" x2="398.5" y2="351.48" stroke="#000000" stroke-width="1.25"/>
<line x1="396.3" y1="274.3" x2="401.1" y2="274.3" stroke="#000000" stroke-width="1.25"/>
<line x1="397.88" y1="350.85" x2="577.2" y2="350.85" stroke="#000000" stroke-width="1.25"/>
<line x1="393.9" y1="237.4" x2="398.5" y2="237.4" stroke="#000000" stroke-width="1.25"/>
<text x="392.3" y="240.75" font-size="9.4" font-weight="bold" text-anchor="end">60</text>
<line x1="393.9" y1="248.2" x2="398.5" y2="248.2" stroke="#000000" stroke-width="1.25"/>
<text x="392.3" y="251.55" font-size="9.4" font-weight="bold" text-anchor="end">40</text>
<line x1="393.9" y1="259" x2="398.5" y2="259" stroke="#000000" stroke-width="1.25"/>
<text x="392.3" y="262.35" font-size="9.4" font-weight="bold" text-anchor="end">20</text>
<line x1="393.9" y1="284.8" x2="398.5" y2="284.8" stroke="#000000" stroke-width="1.25"/>
<text x="392.3" y="288.15" font-size="9.4" font-weight="bold" text-anchor="end">6</text>
<line x1="393.9" y1="306.7" x2="398.5" y2="306.7" stroke="#000000" stroke-width="1.25"/>
<text x="392.3" y="310.05" font-size="9.4" font-weight="bold" text-anchor="end">4</text>
<line x1="393.9" y1="328.7" x2="398.5" y2="328.7" stroke="#000000" stroke-width="1.25"/>
<text x="392.3" y="332.05" font-size="9.4" font-weight="bold" text-anchor="end">2</text>
<line x1="393.9" y1="350.7" x2="398.5" y2="350.7" stroke="#000000" stroke-width="1.25"/>
<text x="392.3" y="354.05" font-size="9.4" font-weight="bold" text-anchor="end">0</text>
<line x1="407.2" y1="350.85" x2="407.2" y2="356.45" stroke="#000000" stroke-width="1.25"/>
<text x="409.81" y="363.65" font-size="9.3" font-weight="bold" text-anchor="end" transform="rotate(-45 409.81 363.65)"><tspan font-style="italic" font-weight="normal">Pm</tspan>STAT</text>
<line x1="425.18" y1="350.85" x2="425.18" y2="356.45" stroke="#000000" stroke-width="1.25"/>
<text x="427.78" y="363.65" font-size="9.3" font-weight="bold" text-anchor="end" transform="rotate(-45 427.78 363.65)"><tspan font-style="italic" font-weight="normal">Pm</tspan>SOCS2</text>
<line x1="443.14" y1="350.85" x2="443.14" y2="356.45" stroke="#000000" stroke-width="1.25"/>
<text x="445.75" y="363.65" font-size="9.3" font-weight="bold" text-anchor="end" transform="rotate(-45 445.75 363.65)">Dorsal</text>
<line x1="461.11" y1="350.85" x2="461.11" y2="356.45" stroke="#000000" stroke-width="1.25"/>
<text x="463.71" y="363.65" font-size="9.3" font-weight="bold" text-anchor="end" transform="rotate(-45 463.71 363.65)"><tspan font-style="italic" font-weight="normal">Pm</tspan>IMD</text>
<line x1="479.08" y1="350.85" x2="479.08" y2="356.45" stroke="#000000" stroke-width="1.25"/>
<text x="481.69" y="363.65" font-size="9.3" font-weight="bold" text-anchor="end" transform="rotate(-45 481.69 363.65)">ProPO 2</text>
<line x1="497.06" y1="350.85" x2="497.06" y2="356.45" stroke="#000000" stroke-width="1.25"/>
<text x="499.66" y="363.65" font-size="9.3" font-weight="bold" text-anchor="end" transform="rotate(-45 499.66 363.65)">Vago 5</text>
<line x1="515.02" y1="350.85" x2="515.02" y2="356.45" stroke="#000000" stroke-width="1.25"/>
<text x="517.62" y="363.65" font-size="9.3" font-weight="bold" text-anchor="end" transform="rotate(-45 517.62 363.65)">ALF<tspan font-style="italic" font-weight="normal">Pm</tspan> 3</text>
<line x1="533" y1="350.85" x2="533" y2="356.45" stroke="#000000" stroke-width="1.25"/>
<text x="535.6" y="363.65" font-size="9.3" font-weight="bold" text-anchor="end" transform="rotate(-45 535.6 363.65)">Penaeidin 3</text>
<line x1="550.97" y1="350.85" x2="550.97" y2="356.45" stroke="#000000" stroke-width="1.25"/>
<text x="553.57" y="363.65" font-size="9.3" font-weight="bold" text-anchor="end" transform="rotate(-45 553.57 363.65)">Crustin<tspan font-style="italic" font-weight="normal">Pm</tspan> 1</text>
<line x1="568.94" y1="350.85" x2="568.94" y2="356.45" stroke="#000000" stroke-width="1.25"/>
<text x="571.54" y="363.65" font-size="9.3" font-weight="bold" text-anchor="end" transform="rotate(-45 571.54 363.65)">Crustin<tspan font-style="italic" font-weight="normal">Pm</tspan> 7</text>
<text x="487.8" y="413.85" font-size="9.9" font-weight="bold" text-anchor="middle">WSSV at 24 hpi</text>
<text x="365.9" y="291.78" font-size="9.7" font-weight="bold" text-anchor="middle" class="yl" transform="rotate(-90 365.9 291.78)">Relative mRNA expression</text>
<path d="M402.6 310.6V308.9H411.7V310.6" fill="none" stroke="#1c1c1c" stroke-width="0.85"/>
<path d="M406.8 322V320.3H411.7V322" fill="none" stroke="#1c1c1c" stroke-width="0.85"/>
<path d="M420.4 313.8V312.1H429.7V313.8" fill="none" stroke="#1c1c1c" stroke-width="0.85"/>
<path d="M424.7 324.8V323.1H429.7V324.8" fill="none" stroke="#1c1c1c" stroke-width="0.85"/>
<path d="M437.7 306.2V304.5H447.4V306.2" fill="none" stroke="#1c1c1c" stroke-width="0.85"/>
<path d="M442.4 317.2V315.5H447.4V317.2" fill="none" stroke="#1c1c1c" stroke-width="0.85"/>
<path d="M456.4 315.9V314.2H465.8V315.9" fill="none" stroke="#1c1c1c" stroke-width="0.85"/>
<path d="M456.4 326.4V324.7H460.8V326.4" fill="none" stroke="#1c1c1c" stroke-width="0.85"/>
<path d="M460.2 336.2V334.5H464.9V336.2" fill="none" stroke="#1c1c1c" stroke-width="0.85"/>
<path d="M473.8 240.2V238.5H483.5V240.2" fill="none" stroke="#1c1c1c" stroke-width="0.85"/>
<path d="M478.5 251V249.3H483.3V251" fill="none" stroke="#1c1c1c" stroke-width="0.85"/>
<path d="M491.5 245.2V243.5H501.2V245.2" fill="none" stroke="#1c1c1c" stroke-width="0.85"/>
<path d="M496.5 256.2V254.5H501.2V256.2" fill="none" stroke="#1c1c1c" stroke-width="0.85"/>
<path d="M509.4 271.2V269.5H518.8V271.2" fill="none" stroke="#1c1c1c" stroke-width="0.85"/>
<path d="M514.2 282.4V280.7H518.8V282.4" fill="none" stroke="#1c1c1c" stroke-width="0.85"/>
<path d="M527.9 224.9V223.2H537.2V224.9" fill="none" stroke="#1c1c1c" stroke-width="0.85"/>
<path d="M532.6 236.2V234.5H537.2V236.2" fill="none" stroke="#1c1c1c" stroke-width="0.85"/>
<path d="M546.1 280.1V278.4H554.9V280.1" fill="none" stroke="#1c1c1c" stroke-width="0.85"/>
<path d="M550.6 290.9V289.2H554.9V290.9" fill="none" stroke="#1c1c1c" stroke-width="0.85"/>
<path d="M564.1 247.8V246.1H573.5V247.8" fill="none" stroke="#1c1c1c" stroke-width="0.85"/>
<path d="M568.8 259.2V257.5H573.5V259.2" fill="none" stroke="#1c1c1c" stroke-width="0.85"/>
<text x="406.6" y="307.12" font-size="9" font-weight="bold" text-anchor="middle">*</text>
<text x="409" y="317.82" font-size="9" font-weight="bold" text-anchor="middle">*</text>
<text x="425" y="310.02" font-size="9" font-weight="bold" text-anchor="middle">*</text>
<text x="426.9" y="320.62" font-size="9" font-weight="bold" text-anchor="middle">*</text>
<text x="442.3" y="302.42" font-size="9" font-weight="bold" text-anchor="middle">*</text>
<text x="444.5" y="313.62" font-size="9" font-weight="bold" text-anchor="middle">*</text>
<text x="460.7" y="311.92" font-size="9" font-weight="bold" text-anchor="middle">*</text>
<text x="458.8" y="322.32" font-size="9" font-weight="bold" text-anchor="middle">*</text>
<text x="462.6" y="332.02" font-size="9" font-weight="bold" text-anchor="middle">*</text>
<text x="478.4" y="235.42" font-size="9" font-weight="bold" text-anchor="middle">*</text>
<text x="480.9" y="246.82" font-size="9" font-weight="bold" text-anchor="middle">*</text>
<text x="496.1" y="240.62" font-size="9" font-weight="bold" text-anchor="middle">*</text>
<text x="498.5" y="251.62" font-size="9" font-weight="bold" text-anchor="middle">*</text>
<text x="513.7" y="266.82" font-size="9" font-weight="bold" text-anchor="middle">*</text>
<text x="516.4" y="277.82" font-size="9" font-weight="bold" text-anchor="middle">*</text>
<text x="532.3" y="221.02" font-size="9" font-weight="bold" text-anchor="middle">*</text>
<text x="534.6" y="231.62" font-size="9" font-weight="bold" text-anchor="middle">*</text>
<text x="550.5" y="276.12" font-size="9" font-weight="bold" text-anchor="middle">*</text>
<text x="552.4" y="286.72" font-size="9" font-weight="bold" text-anchor="middle">*</text>
<text x="568.4" y="244.02" font-size="9" font-weight="bold" text-anchor="middle">*</text>
<text x="570.6" y="254.62" font-size="9" font-weight="bold" text-anchor="middle">*</text>
<rect x="582" y="237.6" width="12.6" height="5.9" fill="#000000"/>
<text x="601.8" y="243.5" font-size="9.95" font-weight="normal" text-anchor="start">WSSV 24 hpi</text>
<rect x="582" y="261.5" width="12.6" height="5.9" fill="#5e5e5e"/>
<text x="601.8" y="261.4" font-size="9.95" font-weight="normal" text-anchor="start" textLength="60.2" lengthAdjust="spacingAndGlyphs">GFP dsRNA +</text>
<text x="601.8" y="272.7" font-size="9.95" font-weight="normal" text-anchor="start">WSSV 24 hpi</text>
<rect x="580" y="290.2" width="12.6" height="5.9" fill="#a3a3a3"/>
<text x="599.5" y="291" font-size="9.95" font-weight="normal" text-anchor="start" textLength="82.6" lengthAdjust="spacingAndGlyphs"><tspan font-style="italic">Pm</tspan>DOME dsRNA +</text>
<text x="599.5" y="301.8" font-size="9.95" font-weight="normal" text-anchor="start">WSSV 24 hpi</text>
<text transform="translate(347.59 211.7) scale(0.9950 1)" font-size="14.8" class="pl">D)</text>
<rect x="54.1" y="555" width="4.02" height="34.3" fill="#000000"/>
<line x1="56.09" y1="553.7" x2="56.09" y2="555" stroke="#000000" stroke-width="0.75"/>
<line x1="54.79" y1="553.7" x2="57.38" y2="553.7" stroke="#000000" stroke-width="0.75"/>
<rect x="58.07" y="560.2" width="4.02" height="29.1" fill="#5e5e5e"/>
<line x1="60.05" y1="556.9" x2="60.05" y2="560.2" stroke="#5e5e5e" stroke-width="0.75"/>
<line x1="58.76" y1="556.9" x2="61.35" y2="556.9" stroke="#5e5e5e" stroke-width="0.75"/>
<rect x="62.04" y="580.3" width="4.02" height="9" fill="#a3a3a3"/>
<line x1="64.03" y1="578.8" x2="64.03" y2="580.3" stroke="#a3a3a3" stroke-width="0.75"/>
<line x1="62.73" y1="578.8" x2="65.33" y2="578.8" stroke="#a3a3a3" stroke-width="0.75"/>
<rect x="72.07" y="563.2" width="4.02" height="26.1" fill="#000000"/>
<line x1="74.05" y1="560.7" x2="74.05" y2="563.2" stroke="#000000" stroke-width="0.75"/>
<line x1="72.75" y1="560.7" x2="75.35" y2="560.7" stroke="#000000" stroke-width="0.75"/>
<rect x="76.04" y="559.4" width="4.02" height="29.9" fill="#5e5e5e"/>
<line x1="78.02" y1="555" x2="78.02" y2="559.4" stroke="#5e5e5e" stroke-width="0.75"/>
<line x1="76.72" y1="555" x2="79.32" y2="555" stroke="#5e5e5e" stroke-width="0.75"/>
<rect x="80.01" y="583.5" width="4.02" height="5.8" fill="#a3a3a3"/>
<line x1="81.99" y1="582.9" x2="81.99" y2="583.5" stroke="#a3a3a3" stroke-width="0.75"/>
<line x1="80.69" y1="582.9" x2="83.29" y2="582.9" stroke="#a3a3a3" stroke-width="0.75"/>
<rect x="90.04" y="571.2" width="4.02" height="18.1" fill="#000000"/>
<line x1="92.02" y1="570.2" x2="92.02" y2="571.2" stroke="#000000" stroke-width="0.75"/>
<line x1="90.72" y1="570.2" x2="93.32" y2="570.2" stroke="#000000" stroke-width="0.75"/>
<rect x="94.01" y="574" width="4.02" height="15.3" fill="#5e5e5e"/>
<line x1="95.99" y1="573" x2="95.99" y2="574" stroke="#5e5e5e" stroke-width="0.75"/>
<line x1="94.69" y1="573" x2="97.29" y2="573" stroke="#5e5e5e" stroke-width="0.75"/>
<rect x="97.98" y="573" width="4.02" height="16.3" fill="#a3a3a3"/>
<line x1="99.96" y1="570.2" x2="99.96" y2="573" stroke="#a3a3a3" stroke-width="0.75"/>
<line x1="98.66" y1="570.2" x2="101.26" y2="570.2" stroke="#a3a3a3" stroke-width="0.75"/>
<rect x="108.01" y="577.8" width="4.02" height="11.5" fill="#000000"/>
<line x1="109.99" y1="576.3" x2="109.99" y2="577.8" stroke="#000000" stroke-width="0.75"/>
<line x1="108.69" y1="576.3" x2="111.29" y2="576.3" stroke="#000000" stroke-width="0.75"/>
<rect x="111.98" y="588" width="4.02" height="1.3" fill="#5e5e5e"/>
<rect x="115.95" y="588.6" width="4.02" height="0.7" fill="#a3a3a3"/>
<rect x="125.98" y="523.7" width="4.02" height="65.6" fill="#000000"/>
<rect x="125.98" y="505" width="4.02" height="9.6" fill="#000000"/>
<line x1="127.96" y1="502.1" x2="127.96" y2="505" stroke="#000000" stroke-width="0.75"/>
<line x1="126.66" y1="502.1" x2="129.26" y2="502.1" stroke="#000000" stroke-width="0.75"/>
<rect x="129.95" y="523.7" width="4.02" height="65.6" fill="#5e5e5e"/>
<rect x="129.95" y="510.2" width="4.02" height="4.4" fill="#5e5e5e"/>
<line x1="131.94" y1="506.5" x2="131.94" y2="510.2" stroke="#5e5e5e" stroke-width="0.75"/>
<line x1="130.63" y1="506.5" x2="133.24" y2="506.5" stroke="#5e5e5e" stroke-width="0.75"/>
<rect x="133.92" y="523.7" width="4.02" height="65.6" fill="#a3a3a3"/>
<rect x="133.92" y="482.2" width="4.02" height="32.4" fill="#a3a3a3"/>
<line x1="135.91" y1="474.2" x2="135.91" y2="482.2" stroke="#a3a3a3" stroke-width="0.75"/>
<line x1="134.6" y1="474.2" x2="137.21" y2="474.2" stroke="#a3a3a3" stroke-width="0.75"/>
<rect x="143.95" y="555" width="4.02" height="34.3" fill="#000000"/>
<line x1="145.94" y1="546.1" x2="145.94" y2="555" stroke="#000000" stroke-width="0.75"/>
<line x1="144.63" y1="546.1" x2="147.24" y2="546.1" stroke="#000000" stroke-width="0.75"/>
<rect x="147.92" y="561.3" width="4.02" height="28" fill="#5e5e5e"/>
<line x1="149.91" y1="559.4" x2="149.91" y2="561.3" stroke="#5e5e5e" stroke-width="0.75"/>
<line x1="148.6" y1="559.4" x2="151.21" y2="559.4" stroke="#5e5e5e" stroke-width="0.75"/>
<rect x="151.89" y="523.7" width="4.02" height="65.6" fill="#a3a3a3"/>
<rect x="151.89" y="512.7" width="4.02" height="1.9" fill="#a3a3a3"/>
<line x1="153.88" y1="510.7" x2="153.88" y2="512.7" stroke="#a3a3a3" stroke-width="0.75"/>
<line x1="152.57" y1="510.7" x2="155.18" y2="510.7" stroke="#a3a3a3" stroke-width="0.75"/>
<rect x="161.92" y="564.9" width="4.02" height="24.4" fill="#000000"/>
<line x1="163.91" y1="560.2" x2="163.91" y2="564.9" stroke="#000000" stroke-width="0.75"/>
<line x1="162.6" y1="560.2" x2="165.21" y2="560.2" stroke="#000000" stroke-width="0.75"/>
<rect x="165.89" y="569.7" width="4.02" height="19.6" fill="#5e5e5e"/>
<line x1="167.88" y1="566.4" x2="167.88" y2="569.7" stroke="#5e5e5e" stroke-width="0.75"/>
<line x1="166.57" y1="566.4" x2="169.18" y2="566.4" stroke="#5e5e5e" stroke-width="0.75"/>
<rect x="169.86" y="533.2" width="4.02" height="56.1" fill="#a3a3a3"/>
<line x1="171.84" y1="523.7" x2="171.84" y2="533.2" stroke="#a3a3a3" stroke-width="0.75"/>
<line x1="170.54" y1="523.7" x2="173.15" y2="523.7" stroke="#a3a3a3" stroke-width="0.75"/>
<rect x="179.89" y="523.7" width="4.02" height="65.6" fill="#000000"/>
<rect x="179.89" y="496.4" width="4.02" height="18.2" fill="#000000"/>
<line x1="181.88" y1="494.1" x2="181.88" y2="496.4" stroke="#000000" stroke-width="0.75"/>
<line x1="180.57" y1="494.1" x2="183.18" y2="494.1" stroke="#000000" stroke-width="0.75"/>
<rect x="183.86" y="523.7" width="4.02" height="65.6" fill="#5e5e5e"/>
<rect x="183.86" y="496.4" width="4.02" height="18.2" fill="#5e5e5e"/>
<line x1="185.84" y1="493.2" x2="185.84" y2="496.4" stroke="#5e5e5e" stroke-width="0.75"/>
<line x1="184.54" y1="493.2" x2="187.15" y2="493.2" stroke="#5e5e5e" stroke-width="0.75"/>
<rect x="187.83" y="523.7" width="4.02" height="65.6" fill="#a3a3a3"/>
<rect x="187.83" y="501.7" width="4.02" height="12.9" fill="#a3a3a3"/>
<line x1="189.81" y1="498.7" x2="189.81" y2="501.7" stroke="#a3a3a3" stroke-width="0.75"/>
<line x1="188.51" y1="498.7" x2="191.12" y2="498.7" stroke="#a3a3a3" stroke-width="0.75"/>
<rect x="197.86" y="557.9" width="4.02" height="31.4" fill="#000000"/>
<line x1="199.84" y1="553.5" x2="199.84" y2="557.9" stroke="#000000" stroke-width="0.75"/>
<line x1="198.54" y1="553.5" x2="201.15" y2="553.5" stroke="#000000" stroke-width="0.75"/>
<rect x="201.83" y="563.2" width="4.02" height="26.1" fill="#5e5e5e"/>
<line x1="203.81" y1="556.9" x2="203.81" y2="563.2" stroke="#5e5e5e" stroke-width="0.75"/>
<line x1="202.51" y1="556.9" x2="205.12" y2="556.9" stroke="#5e5e5e" stroke-width="0.75"/>
<rect x="205.8" y="545" width="4.02" height="44.3" fill="#a3a3a3"/>
<line x1="207.78" y1="538.9" x2="207.78" y2="545" stroke="#a3a3a3" stroke-width="0.75"/>
<line x1="206.48" y1="538.9" x2="209.09" y2="538.9" stroke="#a3a3a3" stroke-width="0.75"/>
<rect x="215.83" y="523.7" width="4.02" height="65.6" fill="#000000"/>
<rect x="215.83" y="507.2" width="4.02" height="7.4" fill="#000000"/>
<line x1="217.81" y1="504.4" x2="217.81" y2="507.2" stroke="#000000" stroke-width="0.75"/>
<line x1="216.51" y1="504.4" x2="219.12" y2="504.4" stroke="#000000" stroke-width="0.75"/>
<rect x="219.8" y="523.7" width="4.02" height="65.6" fill="#5e5e5e"/>
<rect x="219.8" y="509.7" width="4.02" height="4.9" fill="#5e5e5e"/>
<line x1="221.78" y1="507.8" x2="221.78" y2="509.7" stroke="#5e5e5e" stroke-width="0.75"/>
<line x1="220.48" y1="507.8" x2="223.09" y2="507.8" stroke="#5e5e5e" stroke-width="0.75"/>
<rect x="223.77" y="523.7" width="4.02" height="65.6" fill="#a3a3a3"/>
<rect x="223.77" y="506.9" width="4.02" height="7.7" fill="#a3a3a3"/>
<line x1="225.75" y1="505.3" x2="225.75" y2="506.9" stroke="#a3a3a3" stroke-width="0.75"/>
<line x1="224.45" y1="505.3" x2="227.06" y2="505.3" stroke="#a3a3a3" stroke-width="0.75"/>
<line x1="51.5" y1="470.27" x2="51.5" y2="514.6" stroke="#000000" stroke-width="1.25"/>
<line x1="49.3" y1="514.6" x2="54.1" y2="514.6" stroke="#000000" stroke-width="1.25"/>
<line x1="51.5" y1="523.7" x2="51.5" y2="589.92" stroke="#000000" stroke-width="1.25"/>
<line x1="49.3" y1="523.7" x2="54.1" y2="523.7" stroke="#000000" stroke-width="1.25"/>
<line x1="50.88" y1="589.3" x2="230.2" y2="589.3" stroke="#000000" stroke-width="1.25"/>
<line x1="46.9" y1="470.9" x2="51.5" y2="470.9" stroke="#000000" stroke-width="1.25"/>
<text x="45.3" y="474.25" font-size="9.4" font-weight="bold" text-anchor="end">60</text>
<line x1="46.9" y1="486.9" x2="51.5" y2="486.9" stroke="#000000" stroke-width="1.25"/>
<text x="45.3" y="490.25" font-size="9.4" font-weight="bold" text-anchor="end">40</text>
<line x1="46.9" y1="502.9" x2="51.5" y2="502.9" stroke="#000000" stroke-width="1.25"/>
<text x="45.3" y="506.25" font-size="9.4" font-weight="bold" text-anchor="end">20</text>
<line x1="46.9" y1="523.7" x2="51.5" y2="523.7" stroke="#000000" stroke-width="1.25"/>
<text x="45.3" y="527.05" font-size="9.4" font-weight="bold" text-anchor="end">5</text>
<line x1="46.9" y1="536.8" x2="51.5" y2="536.8" stroke="#000000" stroke-width="1.25"/>
<text x="45.3" y="540.15" font-size="9.4" font-weight="bold" text-anchor="end">4</text>
<line x1="46.9" y1="549.9" x2="51.5" y2="549.9" stroke="#000000" stroke-width="1.25"/>
<text x="45.3" y="553.25" font-size="9.4" font-weight="bold" text-anchor="end">3</text>
<line x1="46.9" y1="563.1" x2="51.5" y2="563.1" stroke="#000000" stroke-width="1.25"/>
<text x="45.3" y="566.45" font-size="9.4" font-weight="bold" text-anchor="end">2</text>
<line x1="46.9" y1="576.2" x2="51.5" y2="576.2" stroke="#000000" stroke-width="1.25"/>
<text x="45.3" y="579.55" font-size="9.4" font-weight="bold" text-anchor="end">1</text>
<line x1="46.9" y1="589.3" x2="51.5" y2="589.3" stroke="#000000" stroke-width="1.25"/>
<text x="45.3" y="592.65" font-size="9.4" font-weight="bold" text-anchor="end">0</text>
<line x1="60.2" y1="589.3" x2="60.2" y2="594.9" stroke="#000000" stroke-width="1.25"/>
<text x="62.8" y="601.8" font-size="9.3" font-weight="bold" text-anchor="end" transform="rotate(-45 62.8 601.8)"><tspan font-style="italic" font-weight="normal">Pm</tspan>DOME</text>
<line x1="78.17" y1="589.3" x2="78.17" y2="594.9" stroke="#000000" stroke-width="1.25"/>
<text x="80.77" y="601.8" font-size="9.3" font-weight="bold" text-anchor="end" transform="rotate(-45 80.77 601.8)"><tspan font-style="italic" font-weight="normal">Pm</tspan>SOCS2</text>
<line x1="96.14" y1="589.3" x2="96.14" y2="594.9" stroke="#000000" stroke-width="1.25"/>
<text x="98.74" y="601.8" font-size="9.3" font-weight="bold" text-anchor="end" transform="rotate(-45 98.74 601.8)">Dorsal</text>
<line x1="114.11" y1="589.3" x2="114.11" y2="594.9" stroke="#000000" stroke-width="1.25"/>
<text x="116.71" y="601.8" font-size="9.3" font-weight="bold" text-anchor="end" transform="rotate(-45 116.71 601.8)"><tspan font-style="italic" font-weight="normal">Pm</tspan>IMD</text>
<line x1="132.09" y1="589.3" x2="132.09" y2="594.9" stroke="#000000" stroke-width="1.25"/>
<text x="134.69" y="601.8" font-size="9.3" font-weight="bold" text-anchor="end" transform="rotate(-45 134.69 601.8)">ProPO 2</text>
<line x1="150.06" y1="589.3" x2="150.06" y2="594.9" stroke="#000000" stroke-width="1.25"/>
<text x="152.66" y="601.8" font-size="9.3" font-weight="bold" text-anchor="end" transform="rotate(-45 152.66 601.8)">Vago 5</text>
<line x1="168.03" y1="589.3" x2="168.03" y2="594.9" stroke="#000000" stroke-width="1.25"/>
<text x="170.62" y="601.8" font-size="9.3" font-weight="bold" text-anchor="end" transform="rotate(-45 170.62 601.8)">ALF<tspan font-style="italic" font-weight="normal">Pm</tspan> 3</text>
<line x1="186" y1="589.3" x2="186" y2="594.9" stroke="#000000" stroke-width="1.25"/>
<text x="188.59" y="601.8" font-size="9.3" font-weight="bold" text-anchor="end" transform="rotate(-45 188.59 601.8)">Penaeidin 3</text>
<line x1="203.97" y1="589.3" x2="203.97" y2="594.9" stroke="#000000" stroke-width="1.25"/>
<text x="206.56" y="601.8" font-size="9.3" font-weight="bold" text-anchor="end" transform="rotate(-45 206.56 601.8)">Crustin<tspan font-style="italic" font-weight="normal">Pm</tspan> 1</text>
<line x1="221.94" y1="589.3" x2="221.94" y2="594.9" stroke="#000000" stroke-width="1.25"/>
<text x="224.53" y="601.8" font-size="9.3" font-weight="bold" text-anchor="end" transform="rotate(-45 224.53 601.8)">Crustin<tspan font-style="italic" font-weight="normal">Pm</tspan> 7</text>
<text x="140.8" y="652.3" font-size="9.9" font-weight="bold" text-anchor="middle">WSSV at 6 hpi</text>
<text x="18.9" y="530.3" font-size="9.7" font-weight="bold" text-anchor="middle" class="yl" transform="rotate(-90 18.9 530.3)">Relative mRNA expression</text>
<path d="M55.7 540.6V538.9H64.7V540.6" fill="none" stroke="#1c1c1c" stroke-width="0.85"/>
<path d="M60.5 551.6V549.9H64.7V551.6" fill="none" stroke="#1c1c1c" stroke-width="0.85"/>
<path d="M73.8 540.6V538.9H82.8V540.6" fill="none" stroke="#1c1c1c" stroke-width="0.85"/>
<path d="M78.1 551.6V549.9H82.8V551.6" fill="none" stroke="#1c1c1c" stroke-width="0.85"/>
<path d="M109.4 562.1V560.4H118.6V562.1" fill="none" stroke="#1c1c1c" stroke-width="0.85"/>
<path d="M109.8 572.9V571.2H114.5V572.9" fill="none" stroke="#1c1c1c" stroke-width="0.85"/>
<path d="M127.2 461.5V459.8H136.6V461.5" fill="none" stroke="#1c1c1c" stroke-width="0.85"/>
<path d="M131.5 472.1V470.4H136.1V472.1" fill="none" stroke="#1c1c1c" stroke-width="0.85"/>
<path d="M144.9 498.5V496.8H154.6V498.5" fill="none" stroke="#1c1c1c" stroke-width="0.85"/>
<path d="M149.6 509.7V508H154.6V509.7" fill="none" stroke="#1c1c1c" stroke-width="0.85"/>
<path d="M162.7 510.8V509.1H172.1V510.8" fill="none" stroke="#1c1c1c" stroke-width="0.85"/>
<path d="M167.4 522.1V520.4H172.1V522.1" fill="none" stroke="#1c1c1c" stroke-width="0.85"/>
<path d="M198.8 525.7V524H207.8V525.7" fill="none" stroke="#1c1c1c" stroke-width="0.85"/>
<path d="M203.5 536.4V534.7H207.8V536.4" fill="none" stroke="#1c1c1c" stroke-width="0.85"/>
<text x="60" y="536.82" font-size="9" font-weight="bold" text-anchor="middle">*</text>
<text x="62.3" y="547.82" font-size="9" font-weight="bold" text-anchor="middle">*</text>
<text x="78" y="536.82" font-size="9" font-weight="bold" text-anchor="middle">*</text>
<text x="80.3" y="547.82" font-size="9" font-weight="bold" text-anchor="middle">*</text>
<text x="113.9" y="557.62" font-size="9" font-weight="bold" text-anchor="middle">*</text>
<text x="112" y="569.02" font-size="9" font-weight="bold" text-anchor="middle">*</text>
<text x="131.4" y="457.32" font-size="9" font-weight="bold" text-anchor="middle">*</text>
<text x="133.7" y="468.72" font-size="9" font-weight="bold" text-anchor="middle">*</text>
<text x="149.3" y="494.72" font-size="9" font-weight="bold" text-anchor="middle">*</text>
<text x="151.8" y="505.32" font-size="9" font-weight="bold" text-anchor="middle">*</text>
<text x="166.9" y="507.02" font-size="9" font-weight="bold" text-anchor="middle">*</text>
<text x="169.4" y="517.62" font-size="9" font-weight="bold" text-anchor="middle">*</text>
<text x="203.2" y="521.52" font-size="9" font-weight="bold" text-anchor="middle">*</text>
<text x="205.1" y="532.32" font-size="9" font-weight="bold" text-anchor="middle">*</text>
<rect x="237.3" y="476.2" width="12.6" height="5.9" fill="#000000"/>
<text x="256.9" y="482.2" font-size="9.95" font-weight="normal" text-anchor="start">WSSV 6 hpi</text>
<rect x="237.3" y="497.8" width="12.6" height="5.9" fill="#5e5e5e"/>
<text x="256.9" y="498" font-size="9.95" font-weight="normal" text-anchor="start" textLength="60.2" lengthAdjust="spacingAndGlyphs">GFP dsRNA +</text>
<text x="256.9" y="509" font-size="9.95" font-weight="normal" text-anchor="start">WSSV 6 hpi</text>
<rect x="237.3" y="525.6" width="12.6" height="5.9" fill="#a3a3a3"/>
<text x="256.9" y="526.6" font-size="9.95" font-weight="normal" text-anchor="start" textLength="78" lengthAdjust="spacingAndGlyphs"><tspan font-style="italic">Pm</tspan>STAT dsRNA +</text>
<text x="256.9" y="537.1" font-size="9.95" font-weight="normal" text-anchor="start">WSSV 6 hpi</text>
<text transform="translate(-0 444.6) scale(0.8653 1)" font-size="14.8" class="pl">E)</text>
<rect x="401" y="573.1" width="4.02" height="16.1" fill="#000000"/>
<line x1="402.99" y1="568.7" x2="402.99" y2="573.1" stroke="#000000" stroke-width="0.75"/>
<line x1="401.69" y1="568.7" x2="404.29" y2="568.7" stroke="#000000" stroke-width="0.75"/>
<rect x="404.97" y="574" width="4.02" height="15.2" fill="#5e5e5e"/>
<line x1="406.96" y1="570.2" x2="406.96" y2="574" stroke="#5e5e5e" stroke-width="0.75"/>
<line x1="405.66" y1="570.2" x2="408.26" y2="570.2" stroke="#5e5e5e" stroke-width="0.75"/>
<rect x="408.94" y="580.7" width="4.02" height="8.5" fill="#a3a3a3"/>
<line x1="410.93" y1="579.3" x2="410.93" y2="580.7" stroke="#a3a3a3" stroke-width="0.75"/>
<line x1="409.63" y1="579.3" x2="412.23" y2="579.3" stroke="#a3a3a3" stroke-width="0.75"/>
<rect x="418.97" y="573.4" width="4.02" height="15.8" fill="#000000"/>
<line x1="420.96" y1="572.9" x2="420.96" y2="573.4" stroke="#000000" stroke-width="0.75"/>
<line x1="419.66" y1="572.9" x2="422.26" y2="572.9" stroke="#000000" stroke-width="0.75"/>
<rect x="422.94" y="572.1" width="4.02" height="17.1" fill="#5e5e5e"/>
<line x1="424.93" y1="570.2" x2="424.93" y2="572.1" stroke="#5e5e5e" stroke-width="0.75"/>
<line x1="423.63" y1="570.2" x2="426.23" y2="570.2" stroke="#5e5e5e" stroke-width="0.75"/>
<rect x="426.91" y="588.3" width="4.02" height="0.9" fill="#a3a3a3"/>
<rect x="436.94" y="579.3" width="4.02" height="9.9" fill="#000000"/>
<line x1="438.93" y1="577.4" x2="438.93" y2="579.3" stroke="#000000" stroke-width="0.75"/>
<line x1="437.63" y1="577.4" x2="440.23" y2="577.4" stroke="#000000" stroke-width="0.75"/>
<rect x="440.91" y="580.1" width="4.02" height="9.1" fill="#5e5e5e"/>
<line x1="442.9" y1="577.8" x2="442.9" y2="580.1" stroke="#5e5e5e" stroke-width="0.75"/>
<line x1="441.6" y1="577.8" x2="444.2" y2="577.8" stroke="#5e5e5e" stroke-width="0.75"/>
<rect x="444.88" y="575.9" width="4.02" height="13.3" fill="#a3a3a3"/>
<line x1="446.87" y1="574.6" x2="446.87" y2="575.9" stroke="#a3a3a3" stroke-width="0.75"/>
<line x1="445.57" y1="574.6" x2="448.17" y2="574.6" stroke="#a3a3a3" stroke-width="0.75"/>
<rect x="454.91" y="582" width="4.02" height="7.2" fill="#000000"/>
<line x1="456.9" y1="579.7" x2="456.9" y2="582" stroke="#000000" stroke-width="0.75"/>
<line x1="455.6" y1="579.7" x2="458.2" y2="579.7" stroke="#000000" stroke-width="0.75"/>
<rect x="458.88" y="585" width="4.02" height="4.2" fill="#5e5e5e"/>
<line x1="460.87" y1="584.3" x2="460.87" y2="585" stroke="#5e5e5e" stroke-width="0.75"/>
<line x1="459.57" y1="584.3" x2="462.17" y2="584.3" stroke="#5e5e5e" stroke-width="0.75"/>
<rect x="462.85" y="586.9" width="4.02" height="2.3" fill="#a3a3a3"/>
<line x1="464.84" y1="586.3" x2="464.84" y2="586.9" stroke="#a3a3a3" stroke-width="0.75"/>
<line x1="463.54" y1="586.3" x2="466.14" y2="586.3" stroke="#a3a3a3" stroke-width="0.75"/>
<rect x="472.88" y="534.7" width="4.02" height="54.5" fill="#000000"/>
<rect x="472.88" y="521" width="4.02" height="4.6" fill="#000000"/>
<line x1="474.87" y1="517.2" x2="474.87" y2="521" stroke="#000000" stroke-width="0.75"/>
<line x1="473.57" y1="517.2" x2="476.17" y2="517.2" stroke="#000000" stroke-width="0.75"/>
<rect x="476.85" y="534.7" width="4.02" height="54.5" fill="#5e5e5e"/>
<rect x="476.85" y="518.9" width="4.02" height="6.7" fill="#5e5e5e"/>
<line x1="478.84" y1="518.3" x2="478.84" y2="518.9" stroke="#5e5e5e" stroke-width="0.75"/>
<line x1="477.54" y1="518.3" x2="480.14" y2="518.3" stroke="#5e5e5e" stroke-width="0.75"/>
<rect x="480.82" y="534.7" width="4.02" height="54.5" fill="#a3a3a3"/>
<rect x="480.82" y="471.8" width="4.02" height="53.8" fill="#a3a3a3"/>
<line x1="482.81" y1="470.2" x2="482.81" y2="471.8" stroke="#a3a3a3" stroke-width="0.75"/>
<line x1="481.51" y1="470.2" x2="484.11" y2="470.2" stroke="#a3a3a3" stroke-width="0.75"/>
<rect x="490.85" y="553.5" width="4.02" height="35.7" fill="#000000"/>
<line x1="492.84" y1="549.3" x2="492.84" y2="553.5" stroke="#000000" stroke-width="0.75"/>
<line x1="491.54" y1="549.3" x2="494.14" y2="549.3" stroke="#000000" stroke-width="0.75"/>
<rect x="494.82" y="550.3" width="4.02" height="38.9" fill="#5e5e5e"/>
<line x1="496.81" y1="546.1" x2="496.81" y2="550.3" stroke="#5e5e5e" stroke-width="0.75"/>
<line x1="495.51" y1="546.1" x2="498.11" y2="546.1" stroke="#5e5e5e" stroke-width="0.75"/>
<rect x="498.79" y="534.7" width="4.02" height="54.5" fill="#a3a3a3"/>
<rect x="498.79" y="514.8" width="4.02" height="10.8" fill="#a3a3a3"/>
<line x1="500.78" y1="512.4" x2="500.78" y2="514.8" stroke="#a3a3a3" stroke-width="0.75"/>
<line x1="499.48" y1="512.4" x2="502.08" y2="512.4" stroke="#a3a3a3" stroke-width="0.75"/>
<rect x="508.82" y="566.4" width="4.02" height="22.8" fill="#000000"/>
<line x1="510.81" y1="558.3" x2="510.81" y2="566.4" stroke="#000000" stroke-width="0.75"/>
<line x1="509.51" y1="558.3" x2="512.11" y2="558.3" stroke="#000000" stroke-width="0.75"/>
<rect x="512.79" y="570.8" width="4.02" height="18.4" fill="#5e5e5e"/>
<line x1="514.78" y1="569.3" x2="514.78" y2="570.8" stroke="#5e5e5e" stroke-width="0.75"/>
<line x1="513.48" y1="569.3" x2="516.08" y2="569.3" stroke="#5e5e5e" stroke-width="0.75"/>
<rect x="516.76" y="541.8" width="4.02" height="47.4" fill="#a3a3a3"/>
<line x1="518.75" y1="541.2" x2="518.75" y2="541.8" stroke="#a3a3a3" stroke-width="0.75"/>
<line x1="517.45" y1="541.2" x2="520.05" y2="541.2" stroke="#a3a3a3" stroke-width="0.75"/>
<rect x="526.79" y="534.7" width="4.02" height="54.5" fill="#000000"/>
<rect x="526.79" y="516.5" width="4.02" height="9.1" fill="#000000"/>
<line x1="528.78" y1="514.1" x2="528.78" y2="516.5" stroke="#000000" stroke-width="0.75"/>
<line x1="527.48" y1="514.1" x2="530.08" y2="514.1" stroke="#000000" stroke-width="0.75"/>
<rect x="530.76" y="534.7" width="4.02" height="54.5" fill="#5e5e5e"/>
<rect x="530.76" y="518.9" width="4.02" height="6.7" fill="#5e5e5e"/>
<line x1="532.75" y1="517.4" x2="532.75" y2="518.9" stroke="#5e5e5e" stroke-width="0.75"/>
<line x1="531.45" y1="517.4" x2="534.05" y2="517.4" stroke="#5e5e5e" stroke-width="0.75"/>
<rect x="534.73" y="534.7" width="4.02" height="54.5" fill="#a3a3a3"/>
<rect x="534.73" y="491.3" width="4.02" height="34.3" fill="#a3a3a3"/>
<line x1="536.72" y1="489.4" x2="536.72" y2="491.3" stroke="#a3a3a3" stroke-width="0.75"/>
<line x1="535.42" y1="489.4" x2="538.02" y2="489.4" stroke="#a3a3a3" stroke-width="0.75"/>
<rect x="544.76" y="580.1" width="4.02" height="9.1" fill="#000000"/>
<line x1="546.75" y1="578.8" x2="546.75" y2="580.1" stroke="#000000" stroke-width="0.75"/>
<line x1="545.45" y1="578.8" x2="548.04" y2="578.8" stroke="#000000" stroke-width="0.75"/>
<rect x="548.73" y="577.8" width="4.02" height="11.4" fill="#5e5e5e"/>
<line x1="550.72" y1="574" x2="550.72" y2="577.8" stroke="#5e5e5e" stroke-width="0.75"/>
<line x1="549.42" y1="574" x2="552.01" y2="574" stroke="#5e5e5e" stroke-width="0.75"/>
<rect x="552.7" y="534.7" width="4.02" height="54.5" fill="#a3a3a3"/>
<rect x="552.7" y="524.3" width="4.02" height="1.3" fill="#a3a3a3"/>
<line x1="554.69" y1="522" x2="554.69" y2="524.3" stroke="#a3a3a3" stroke-width="0.75"/>
<line x1="553.39" y1="522" x2="555.99" y2="522" stroke="#a3a3a3" stroke-width="0.75"/>
<rect x="562.73" y="568.9" width="4.02" height="20.3" fill="#000000"/>
<line x1="564.72" y1="566.4" x2="564.72" y2="568.9" stroke="#000000" stroke-width="0.75"/>
<line x1="563.42" y1="566.4" x2="566.01" y2="566.4" stroke="#000000" stroke-width="0.75"/>
<rect x="566.7" y="563.2" width="4.02" height="26" fill="#5e5e5e"/>
<line x1="568.69" y1="555.4" x2="568.69" y2="563.2" stroke="#5e5e5e" stroke-width="0.75"/>
<line x1="567.39" y1="555.4" x2="569.99" y2="555.4" stroke="#5e5e5e" stroke-width="0.75"/>
<rect x="570.67" y="534.7" width="4.02" height="54.5" fill="#a3a3a3"/>
<rect x="570.67" y="515" width="4.02" height="10.6" fill="#a3a3a3"/>
<line x1="572.66" y1="512.9" x2="572.66" y2="515" stroke="#a3a3a3" stroke-width="0.75"/>
<line x1="571.36" y1="512.9" x2="573.96" y2="512.9" stroke="#a3a3a3" stroke-width="0.75"/>
<line x1="398.4" y1="469.88" x2="398.4" y2="525.6" stroke="#000000" stroke-width="1.25"/>
<line x1="396.2" y1="525.6" x2="401" y2="525.6" stroke="#000000" stroke-width="1.25"/>
<line x1="398.4" y1="534.7" x2="398.4" y2="589.83" stroke="#000000" stroke-width="1.25"/>
<line x1="396.2" y1="534.7" x2="401" y2="534.7" stroke="#000000" stroke-width="1.25"/>
<line x1="397.78" y1="589.2" x2="577.1" y2="589.2" stroke="#000000" stroke-width="1.25"/>
<line x1="393.8" y1="470.5" x2="398.4" y2="470.5" stroke="#000000" stroke-width="1.25"/>
<text x="392.2" y="473.85" font-size="9.4" font-weight="bold" text-anchor="end">60</text>
<line x1="393.8" y1="481.1" x2="398.4" y2="481.1" stroke="#000000" stroke-width="1.25"/>
<text x="392.2" y="484.45" font-size="9.4" font-weight="bold" text-anchor="end">50</text>
<line x1="393.8" y1="491.5" x2="398.4" y2="491.5" stroke="#000000" stroke-width="1.25"/>
<text x="392.2" y="494.85" font-size="9.4" font-weight="bold" text-anchor="end">40</text>
<line x1="393.8" y1="501.8" x2="398.4" y2="501.8" stroke="#000000" stroke-width="1.25"/>
<text x="392.2" y="505.15" font-size="9.4" font-weight="bold" text-anchor="end">30</text>
<line x1="393.8" y1="512.2" x2="398.4" y2="512.2" stroke="#000000" stroke-width="1.25"/>
<text x="392.2" y="515.55" font-size="9.4" font-weight="bold" text-anchor="end">20</text>
<line x1="393.8" y1="522.5" x2="398.4" y2="522.5" stroke="#000000" stroke-width="1.25"/>
<text x="392.2" y="525.85" font-size="9.4" font-weight="bold" text-anchor="end">10</text>
<line x1="393.8" y1="538.9" x2="398.4" y2="538.9" stroke="#000000" stroke-width="1.25"/>
<text x="392.2" y="542.25" font-size="9.4" font-weight="bold" text-anchor="end">6</text>
<line x1="393.8" y1="555.7" x2="398.4" y2="555.7" stroke="#000000" stroke-width="1.25"/>
<text x="392.2" y="559.05" font-size="9.4" font-weight="bold" text-anchor="end">4</text>
<line x1="393.8" y1="572.4" x2="398.4" y2="572.4" stroke="#000000" stroke-width="1.25"/>
<text x="392.2" y="575.75" font-size="9.4" font-weight="bold" text-anchor="end">2</text>
<line x1="393.8" y1="589.2" x2="398.4" y2="589.2" stroke="#000000" stroke-width="1.25"/>
<text x="392.2" y="592.55" font-size="9.4" font-weight="bold" text-anchor="end">0</text>
<line x1="407.11" y1="589.2" x2="407.11" y2="594.8" stroke="#000000" stroke-width="1.25"/>
<text x="409.71" y="601.2" font-size="9.2" font-weight="bold" text-anchor="end" transform="rotate(-45 409.71 601.2)"><tspan font-style="italic" font-weight="normal">Pm</tspan>DOME</text>
<line x1="425.07" y1="589.2" x2="425.07" y2="594.8" stroke="#000000" stroke-width="1.25"/>
<text x="427.68" y="601.2" font-size="9.2" font-weight="bold" text-anchor="end" transform="rotate(-45 427.68 601.2)"><tspan font-style="italic" font-weight="normal">Pm</tspan>SOCS2</text>
<line x1="443.05" y1="589.2" x2="443.05" y2="594.8" stroke="#000000" stroke-width="1.25"/>
<text x="445.65" y="601.2" font-size="9.2" font-weight="bold" text-anchor="end" transform="rotate(-45 445.65 601.2)">Dorsal</text>
<line x1="461.02" y1="589.2" x2="461.02" y2="594.8" stroke="#000000" stroke-width="1.25"/>
<text x="463.62" y="601.2" font-size="9.2" font-weight="bold" text-anchor="end" transform="rotate(-45 463.62 601.2)"><tspan font-style="italic" font-weight="normal">Pm</tspan>IMD</text>
<line x1="478.99" y1="589.2" x2="478.99" y2="594.8" stroke="#000000" stroke-width="1.25"/>
<text x="481.59" y="601.2" font-size="9.2" font-weight="bold" text-anchor="end" transform="rotate(-45 481.59 601.2)">ProPO 2</text>
<line x1="496.95" y1="589.2" x2="496.95" y2="594.8" stroke="#000000" stroke-width="1.25"/>
<text x="499.56" y="601.2" font-size="9.2" font-weight="bold" text-anchor="end" transform="rotate(-45 499.56 601.2)">Vago 5</text>
<line x1="514.93" y1="589.2" x2="514.93" y2="594.8" stroke="#000000" stroke-width="1.25"/>
<text x="517.53" y="601.2" font-size="9.2" font-weight="bold" text-anchor="end" transform="rotate(-45 517.53 601.2)">ALF<tspan font-style="italic" font-weight="normal">Pm</tspan> 3</text>
<line x1="532.9" y1="589.2" x2="532.9" y2="594.8" stroke="#000000" stroke-width="1.25"/>
<text x="535.5" y="601.2" font-size="9.2" font-weight="bold" text-anchor="end" transform="rotate(-45 535.5 601.2)">Penaeidin 3</text>
<line x1="550.87" y1="589.2" x2="550.87" y2="594.8" stroke="#000000" stroke-width="1.25"/>
<text x="553.47" y="601.2" font-size="9.2" font-weight="bold" text-anchor="end" transform="rotate(-45 553.47 601.2)">Crustin<tspan font-style="italic" font-weight="normal">Pm</tspan> 1</text>
<line x1="568.84" y1="589.2" x2="568.84" y2="594.8" stroke="#000000" stroke-width="1.25"/>
<text x="571.44" y="601.2" font-size="9.2" font-weight="bold" text-anchor="end" transform="rotate(-45 571.44 601.2)">Crustin<tspan font-style="italic" font-weight="normal">Pm</tspan> 7</text>
<text x="487.7" y="652.2" font-size="9.9" font-weight="bold" text-anchor="middle">WSSV at 24 hpi</text>
<text x="365.8" y="530.05" font-size="9.7" font-weight="bold" text-anchor="middle" class="yl" transform="rotate(-90 365.8 530.05)">Relative mRNA expression</text>
<path d="M421.3 556.7V555H429.9V556.7" fill="none" stroke="#1c1c1c" stroke-width="0.85"/>
<path d="M425.1 567.6V565.9H429.9V567.6" fill="none" stroke="#1c1c1c" stroke-width="0.85"/>
<path d="M456.6 562.8V561.1H466V562.8" fill="none" stroke="#1c1c1c" stroke-width="0.85"/>
<path d="M456.6 573.8V572.1H461.2V573.8" fill="none" stroke="#1c1c1c" stroke-width="0.85"/>
<path d="M474.9 457.7V456H484.3V457.7" fill="none" stroke="#1c1c1c" stroke-width="0.85"/>
<path d="M479.6 468.7V467H484V468.7" fill="none" stroke="#1c1c1c" stroke-width="0.85"/>
<path d="M492.4 498.7V497H501.8V498.7" fill="none" stroke="#1c1c1c" stroke-width="0.85"/>
<path d="M496.7 510V508.3H501.6V510" fill="none" stroke="#1c1c1c" stroke-width="0.85"/>
<path d="M509.4 526.7V525H518.9V526.7" fill="none" stroke="#1c1c1c" stroke-width="0.85"/>
<path d="M514.2 537.7V536H518.9V537.7" fill="none" stroke="#1c1c1c" stroke-width="0.85"/>
<path d="M527.5 475.4V473.7H536.9V475.4" fill="none" stroke="#1c1c1c" stroke-width="0.85"/>
<path d="M532.4 486.4V484.7H536.9V486.4" fill="none" stroke="#1c1c1c" stroke-width="0.85"/>
<path d="M546.1 508.2V506.5H554.9V508.2" fill="none" stroke="#1c1c1c" stroke-width="0.85"/>
<path d="M550.4 519.2V517.5H554.9V519.2" fill="none" stroke="#1c1c1c" stroke-width="0.85"/>
<path d="M563.5 498.5V496.8H572.9V498.5" fill="none" stroke="#1c1c1c" stroke-width="0.85"/>
<path d="M568.3 509.5V507.8H572.9V509.5" fill="none" stroke="#1c1c1c" stroke-width="0.85"/>
<text x="425.5" y="552.52" font-size="9" font-weight="bold" text-anchor="middle">*</text>
<text x="427.4" y="563.52" font-size="9" font-weight="bold" text-anchor="middle">*</text>
<text x="461" y="558.62" font-size="9" font-weight="bold" text-anchor="middle">*</text>
<text x="459.1" y="569.62" font-size="9" font-weight="bold" text-anchor="middle">*</text>
<text x="479.4" y="453.52" font-size="9" font-weight="bold" text-anchor="middle">*</text>
<text x="481.4" y="464.92" font-size="9" font-weight="bold" text-anchor="middle">*</text>
<text x="496.6" y="495.22" font-size="9" font-weight="bold" text-anchor="middle">*</text>
<text x="498.9" y="505.92" font-size="9" font-weight="bold" text-anchor="middle">*</text>
<text x="513.8" y="522.82" font-size="9" font-weight="bold" text-anchor="middle">*</text>
<text x="516" y="533.42" font-size="9" font-weight="bold" text-anchor="middle">*</text>
<text x="532.1" y="471.12" font-size="9" font-weight="bold" text-anchor="middle">*</text>
<text x="534.6" y="481.92" font-size="9" font-weight="bold" text-anchor="middle">*</text>
<text x="550.5" y="504.22" font-size="9" font-weight="bold" text-anchor="middle">*</text>
<text x="552.4" y="514.82" font-size="9" font-weight="bold" text-anchor="middle">*</text>
<text x="567.6" y="494.72" font-size="9" font-weight="bold" text-anchor="middle">*</text>
<text x="570.1" y="505.32" font-size="9" font-weight="bold" text-anchor="middle">*</text>
<rect x="583.9" y="476.1" width="12.6" height="5.9" fill="#000000"/>
<text x="603.5" y="481.9" font-size="9.95" font-weight="normal" text-anchor="start">WSSV 24 hpi</text>
<rect x="583.9" y="497.8" width="12.6" height="5.9" fill="#5e5e5e"/>
<text x="603.5" y="498" font-size="9.95" font-weight="normal" text-anchor="start" textLength="60.4" lengthAdjust="spacingAndGlyphs">GFP dsRNA +</text>
<text x="603.5" y="508.9" font-size="9.95" font-weight="normal" text-anchor="start">WSSV 24 hpi</text>
<rect x="583.9" y="525.3" width="12.6" height="5.9" fill="#a3a3a3"/>
<text x="603.5" y="526.2" font-size="9.95" font-weight="normal" text-anchor="start" textLength="77.7" lengthAdjust="spacingAndGlyphs"><tspan font-style="italic">Pm</tspan>STAT dsRNA +</text>
<text x="603.5" y="536.7" font-size="9.95" font-weight="normal" text-anchor="start">WSSV 24 hpi</text>
<text transform="translate(347.71 446.5) scale(0.8964 1)" font-size="14.8" class="pl">F)</text>
</svg>
</body>
</html>
